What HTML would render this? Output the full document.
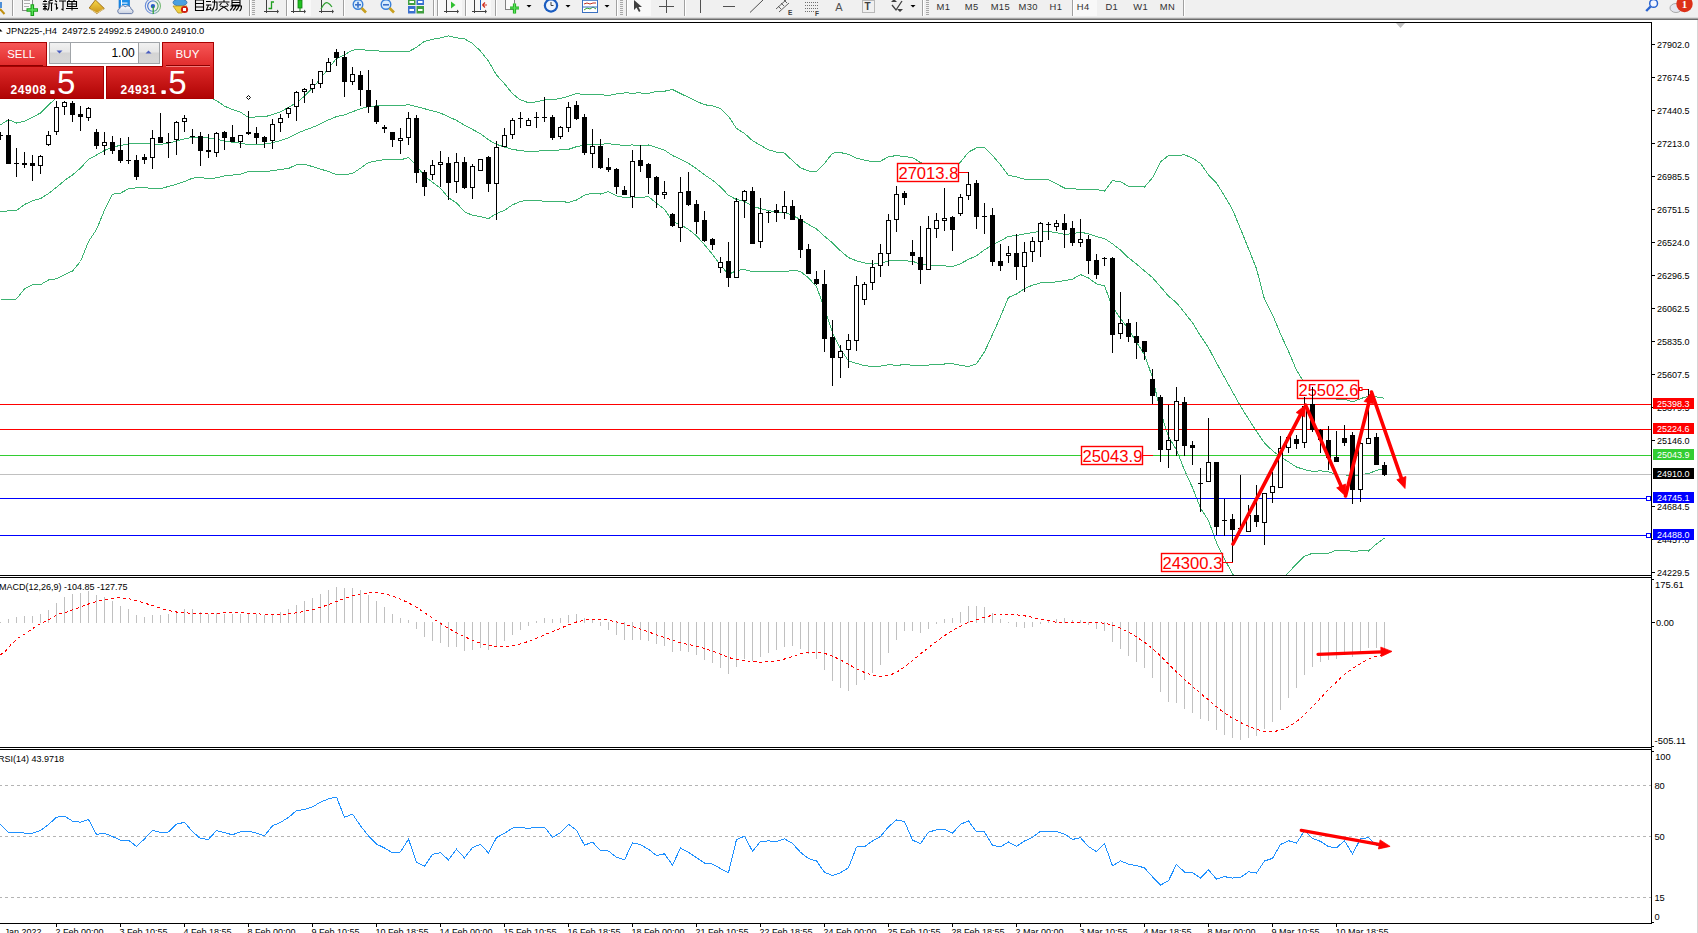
<!DOCTYPE html>
<html><head><meta charset="utf-8"><title>MT4 JPN225 H4</title>
<style>html,body{margin:0;padding:0;background:#fff;overflow:hidden}body{width:1698px;height:933px;font-family:"Liberation Sans",sans-serif}</style>
</head><body>
<svg width="1698" height="933" viewBox="0 0 1698 933" font-family="Liberation Sans, sans-serif" style="display:block">
<defs>
<clipPath id="cm"><rect x="0" y="23" width="1651" height="552"/></clipPath>
<clipPath id="cmacd"><rect x="0" y="578" width="1651" height="169"/></clipPath>
<clipPath id="crsi"><rect x="0" y="750" width="1651" height="173"/></clipPath>
<linearGradient id="gsell" x1="0" y1="0" x2="0" y2="1"><stop offset="0" stop-color="#f65656"/><stop offset="1" stop-color="#e02a2a"/></linearGradient>
<linearGradient id="gprice" x1="0" y1="0" x2="0" y2="1"><stop offset="0" stop-color="#dc2828"/><stop offset="1" stop-color="#b00404"/></linearGradient>
<linearGradient id="gbtn" x1="0" y1="0" x2="0" y2="1"><stop offset="0" stop-color="#f2f2f2"/><stop offset="0.45" stop-color="#e6e6e6"/><stop offset="0.5" stop-color="#d4d4d4"/><stop offset="1" stop-color="#d8d8d8"/></linearGradient>
<linearGradient id="ggold" x1="0" y1="0" x2="0" y2="1"><stop offset="0" stop-color="#f8d848"/><stop offset="1" stop-color="#c89018"/></linearGradient>
<linearGradient id="gcloud" x1="0" y1="0" x2="0" y2="1"><stop offset="0" stop-color="#ffffff"/><stop offset="1" stop-color="#c8d0e0"/></linearGradient>
<linearGradient id="gsig" x1="0" y1="0" x2="1" y2="0"><stop offset="0" stop-color="#3a6ad0"/><stop offset="0.55" stop-color="#6a90d8"/><stop offset="1" stop-color="#50a850"/></linearGradient>
</defs>
<rect x="0" y="0" width="1698" height="933" fill="#fff" />
<g clip-path="url(#cm)">
<polyline points="0.50,124.80 8.50,119.70 16.50,123.00 24.50,121.10 32.50,117.30 40.50,113.00 48.50,105.10 56.50,97.50 64.50,94.50 72.50,93.50 80.50,93.50 88.50,93.50 96.50,93.50 104.50,94.50 112.50,95.50 120.50,96.50 128.50,97.00 136.50,97.00 144.50,97.00 152.50,97.00 160.50,97.00 168.50,97.00 176.50,97.00 184.50,96.07 192.50,96.44 200.50,96.61 208.50,96.89 216.50,100.57 224.50,106.11 232.50,109.52 240.50,112.21 248.50,117.46 256.50,116.93 264.50,116.89 272.50,114.52 280.50,111.74 288.50,107.39 296.50,102.68 304.50,96.16 312.50,88.22 320.50,78.53 328.50,68.28 336.50,58.51 344.50,54.79 352.50,50.15 360.50,49.29 368.50,50.54 376.50,50.87 384.50,51.31 392.50,51.48 400.50,51.29 408.50,51.77 416.50,47.26 424.50,41.38 432.50,39.24 440.50,37.99 448.50,35.85 456.50,37.79 464.50,38.89 472.50,43.41 480.50,51.10 488.50,61.13 496.50,75.07 504.50,83.73 512.50,93.79 520.50,99.93 528.50,102.69 536.50,101.86 544.50,99.90 552.50,99.72 560.50,98.44 568.50,96.34 576.50,93.29 584.50,94.81 592.50,94.77 600.50,94.56 608.50,95.63 616.50,93.82 624.50,92.95 632.50,93.06 640.50,92.94 648.50,93.48 656.50,91.40 664.50,91.23 672.50,89.52 680.50,93.57 688.50,97.31 696.50,101.35 704.50,104.72 712.50,105.84 720.50,108.53 728.50,116.22 736.50,128.45 744.50,133.42 752.50,140.72 760.50,145.28 768.50,149.84 776.50,152.11 784.50,153.07 792.50,160.70 800.50,167.81 808.50,170.99 816.50,171.25 824.50,163.63 832.50,153.09 840.50,152.56 848.50,154.32 856.50,158.17 864.50,160.22 872.50,161.65 880.50,161.13 888.50,156.83 896.50,155.51 904.50,156.65 912.50,157.50 920.50,162.60 928.50,164.91 936.50,165.92 944.50,167.82 952.50,169.12 960.50,162.14 968.50,152.12 976.50,147.91 984.50,147.67 992.50,155.45 1000.50,164.86 1008.50,175.36 1016.50,176.92 1024.50,179.17 1032.50,179.96 1040.50,179.25 1048.50,179.61 1056.50,183.84 1064.50,188.04 1072.50,188.29 1080.50,189.80 1088.50,189.62 1096.50,189.30 1104.50,191.21 1112.50,180.67 1120.50,181.69 1128.50,186.30 1136.50,186.08 1144.50,187.02 1152.50,177.69 1160.50,161.90 1168.50,155.57 1176.50,155.69 1184.50,154.74 1192.50,158.05 1200.50,163.50 1208.50,174.80 1216.50,183.02 1224.50,195.88 1232.50,209.53 1240.50,228.82 1248.50,248.60 1256.50,268.75 1264.50,299.33 1272.50,314.67 1280.50,333.95 1288.50,351.29 1296.50,370.16 1304.50,383.08 1312.50,389.37 1320.50,388.27 1328.50,390.08 1336.50,399.49 1344.50,399.15 1352.50,401.96 1360.50,398.69 1368.50,396.06 1376.50,396.98 1384.50,398.30" fill="none" stroke="#3cb371" stroke-width="1" shape-rendering="crispEdges" />
<polyline points="0.50,211.90 8.50,210.80 16.50,210.50 24.50,204.50 32.50,200.70 40.50,198.70 48.50,193.50 56.50,187.30 64.50,180.50 72.50,175.00 80.50,168.00 88.50,159.50 96.50,155.00 104.50,150.50 112.50,146.70 120.50,145.60 128.50,143.90 136.50,143.90 144.50,143.90 152.50,143.92 160.50,144.31 168.50,143.20 176.50,141.16 184.50,138.78 192.50,137.30 200.50,137.03 208.50,137.88 216.50,139.19 224.50,140.96 232.50,142.31 240.50,143.20 248.50,144.50 256.50,144.09 264.50,144.06 272.50,142.72 280.50,140.56 288.50,137.92 296.50,133.69 304.50,130.17 312.50,127.42 320.50,123.83 328.50,119.88 336.50,116.65 344.50,114.85 352.50,111.78 360.50,108.77 368.50,106.48 376.50,105.91 384.50,105.49 392.50,105.39 400.50,105.53 408.50,104.75 416.50,106.50 424.50,108.76 432.50,110.82 440.50,113.06 448.50,116.82 456.50,120.33 464.50,125.27 472.50,129.41 480.50,133.81 488.50,139.87 496.50,144.33 504.50,147.03 512.50,149.31 520.50,150.71 528.50,151.41 536.50,151.17 544.50,150.56 552.50,150.46 560.50,149.91 568.50,149.35 576.50,146.66 584.50,144.97 592.50,144.02 600.50,144.30 608.50,143.66 616.50,144.88 624.50,145.21 632.50,144.97 640.50,145.29 648.50,144.99 656.50,147.38 664.50,150.19 672.50,155.50 680.50,159.15 688.50,163.35 696.50,168.58 704.50,174.78 712.50,180.13 720.50,186.86 728.50,195.38 736.50,199.51 744.50,201.42 752.50,206.29 760.50,208.56 768.50,210.64 776.50,211.97 784.50,212.51 792.50,215.43 800.50,219.63 808.50,224.45 816.50,228.91 824.50,236.26 832.50,242.84 840.50,250.83 848.50,257.60 856.50,260.79 864.50,262.95 872.50,264.07 880.50,263.65 888.50,260.77 896.50,260.38 904.50,260.71 912.50,261.31 920.50,264.13 928.50,264.97 936.50,265.31 944.50,265.92 952.50,266.40 960.50,263.77 968.50,259.26 976.50,255.91 984.50,249.78 992.50,244.98 1000.50,240.74 1008.50,236.38 1016.50,235.47 1024.50,233.88 1032.50,232.58 1040.50,231.08 1048.50,231.30 1056.50,232.79 1064.50,234.39 1072.50,233.74 1080.50,232.19 1088.50,233.81 1096.50,236.54 1104.50,238.56 1112.50,243.82 1120.50,250.12 1128.50,257.76 1136.50,264.07 1144.50,270.88 1152.50,277.58 1160.50,286.75 1168.50,296.12 1176.50,302.82 1184.50,312.50 1192.50,322.82 1200.50,335.82 1208.50,347.71 1216.50,362.88 1224.50,377.38 1232.50,391.73 1240.50,406.22 1248.50,418.93 1256.50,431.31 1264.50,443.08 1272.50,450.66 1280.50,456.91 1288.50,461.91 1296.50,467.00 1304.50,469.64 1312.50,471.34 1320.50,470.84 1328.50,471.73 1336.50,474.77 1344.50,474.64 1352.50,476.73 1360.50,474.73 1368.50,473.54 1376.50,470.46 1384.50,468.22" fill="none" stroke="#3cb371" stroke-width="1" shape-rendering="crispEdges" />
<polyline points="0.50,298.90 8.50,299.90 16.50,298.90 24.50,289.00 32.50,284.70 40.50,284.70 48.50,280.00 56.50,278.70 64.50,274.80 72.50,271.00 80.50,261.50 88.50,241.50 96.50,229.50 104.50,210.20 112.50,194.30 120.50,193.10 128.50,188.90 136.50,187.80 144.50,187.80 152.50,188.34 160.50,188.58 168.50,186.48 176.50,184.27 184.50,181.50 192.50,178.15 200.50,177.45 208.50,178.87 216.50,177.82 224.50,175.81 232.50,175.09 240.50,174.20 248.50,171.54 256.50,171.26 264.50,171.23 272.50,170.93 280.50,169.39 288.50,168.45 296.50,164.69 304.50,164.17 312.50,166.62 320.50,169.14 328.50,171.47 336.50,174.79 344.50,174.91 352.50,173.41 360.50,168.25 368.50,162.43 376.50,160.94 384.50,159.67 392.50,159.30 400.50,159.77 408.50,157.72 416.50,165.74 424.50,176.14 432.50,182.39 440.50,188.13 448.50,197.78 456.50,202.87 464.50,211.65 472.50,215.40 480.50,216.51 488.50,218.61 496.50,213.60 504.50,210.32 512.50,204.83 520.50,201.49 528.50,200.12 536.50,200.48 544.50,201.21 552.50,201.20 560.50,201.38 568.50,202.37 576.50,200.03 584.50,195.13 592.50,193.27 600.50,194.04 608.50,191.69 616.50,195.94 624.50,197.47 632.50,196.87 640.50,197.64 648.50,196.50 656.50,203.35 664.50,209.16 672.50,221.47 680.50,224.72 688.50,229.40 696.50,235.81 704.50,244.84 712.50,254.43 720.50,265.19 728.50,274.55 736.50,270.57 744.50,269.42 752.50,271.86 760.50,271.83 768.50,271.44 776.50,271.82 784.50,271.94 792.50,270.16 800.50,271.45 808.50,277.91 816.50,286.56 824.50,308.89 832.50,332.60 840.50,349.11 848.50,360.88 856.50,363.41 864.50,365.68 872.50,366.50 880.50,366.17 888.50,364.71 896.50,365.25 904.50,364.76 912.50,365.12 920.50,365.66 928.50,365.03 936.50,364.71 944.50,364.01 952.50,363.68 960.50,365.40 968.50,366.40 976.50,363.90 984.50,351.89 992.50,334.51 1000.50,316.62 1008.50,297.39 1016.50,294.03 1024.50,288.59 1032.50,285.20 1040.50,282.92 1048.50,282.99 1056.50,281.74 1064.50,280.74 1072.50,279.19 1080.50,274.58 1088.50,278.01 1096.50,283.78 1104.50,285.90 1112.50,306.97 1120.50,318.56 1128.50,329.23 1136.50,342.06 1144.50,354.74 1152.50,377.47 1160.50,411.59 1168.50,436.68 1176.50,449.96 1184.50,470.25 1192.50,487.59 1200.50,508.14 1208.50,520.62 1216.50,542.74 1224.50,558.89 1232.50,573.93 1240.50,583.62 1248.50,589.26 1256.50,593.86 1264.50,586.83 1272.50,586.66 1280.50,579.88 1288.50,572.53 1296.50,563.83 1304.50,556.21 1312.50,553.30 1320.50,553.42 1328.50,553.38 1336.50,550.06 1344.50,550.13 1352.50,551.49 1360.50,550.76 1368.50,551.01 1376.50,543.95 1384.50,538.14" fill="none" stroke="#3cb371" stroke-width="1" shape-rendering="crispEdges" />
<rect x="0" y="404" width="1651" height="1" fill="#ff0000" />
<rect x="0" y="429" width="1651" height="1" fill="#ff0000" />
<rect x="0" y="455" width="1651" height="1" fill="#32cd32" />
<rect x="0" y="474" width="1651" height="1" fill="#c0c0c0" />
<rect x="0" y="498" width="1651" height="1" fill="#0000ff" />
<rect x="0" y="535" width="1651" height="1" fill="#0000ff" />
<rect x="1646.5" y="496.5" width="4" height="4" fill="#fff" stroke="#0000ff" stroke-width="1"/>
<rect x="1646.5" y="533.5" width="4" height="4" fill="#fff" stroke="#0000ff" stroke-width="1"/>
<rect x="897.5" y="163.5" width="61" height="18" fill="#fff" stroke="#ff0000" stroke-width="1.4"/>
<text x="928.4" y="179.1" font-size="16.6" fill="#ff0000" text-anchor="middle" font-weight="normal" >27013.8</text>
<rect x="959" y="172" width="10" height="1" fill="#ff0000" />
<rect x="1297.5" y="380.5" width="61" height="18" fill="#fff" stroke="#ff0000" stroke-width="1.4"/>
<text x="1328.4" y="396.1" font-size="16.6" fill="#ff0000" text-anchor="middle" font-weight="normal" >25502.6</text>
<rect x="1359.5" y="387.5" width="2.5" height="3" fill="#fff" stroke="#ff0000" stroke-width="1"/>
<rect x="1362" y="389" width="7" height="1" fill="#ff0000" />
<rect x="1081.5" y="446.5" width="61" height="18" fill="#fff" stroke="#ff0000" stroke-width="1.4"/>
<text x="1112.4" y="462.1" font-size="16.6" fill="#ff0000" text-anchor="middle" font-weight="normal" >25043.9</text>
<rect x="1143" y="455" width="10" height="1" fill="#ff0000" />
<rect x="1161.5" y="553.5" width="61" height="18" fill="#fff" stroke="#ff0000" stroke-width="1.4"/>
<text x="1192.4" y="569.1" font-size="16.6" fill="#ff0000" text-anchor="middle" font-weight="normal" >24300.3</text>
<rect x="1223" y="562" width="10" height="1" fill="#ff0000" />
<rect x="0" y="132" width="1" height="8" fill="#000" />
<rect x="-2" y="135" width="5" height="1" fill="#000" />
<rect x="8" y="119" width="1" height="45" fill="#000" />
<rect x="6" y="135" width="5" height="29" fill="#000" />
<rect x="16" y="148" width="1" height="29" fill="#000" />
<rect x="14" y="163" width="5" height="1" fill="#000" />
<rect x="24" y="152" width="1" height="16" fill="#000" />
<rect x="22" y="163" width="5" height="2" fill="#000" />
<rect x="32" y="155" width="1" height="26" fill="#000" />
<rect x="30" y="163" width="5" height="3" fill="#000" />
<rect x="40" y="155" width="1" height="19" fill="#000" />
<rect x="38" y="156" width="5" height="10" fill="#000" />
<rect x="39" y="157" width="3" height="8" fill="#fff" />
<rect x="48" y="131" width="1" height="15" fill="#000" />
<rect x="46" y="135" width="5" height="10" fill="#000" />
<rect x="47" y="136" width="3" height="8" fill="#fff" />
<rect x="56" y="101" width="1" height="34" fill="#000" />
<rect x="54" y="107" width="5" height="25" fill="#000" />
<rect x="55" y="108" width="3" height="23" fill="#fff" />
<rect x="64" y="101" width="1" height="14" fill="#000" />
<rect x="62" y="102" width="5" height="5" fill="#000" />
<rect x="63" y="103" width="3" height="3" fill="#fff" />
<rect x="72" y="101" width="1" height="21" fill="#000" />
<rect x="70" y="103" width="5" height="12" fill="#000" />
<rect x="80" y="106" width="1" height="25" fill="#000" />
<rect x="78" y="114" width="5" height="3" fill="#000" />
<rect x="88" y="107" width="1" height="14" fill="#000" />
<rect x="86" y="108" width="5" height="10" fill="#000" />
<rect x="87" y="109" width="3" height="8" fill="#fff" />
<rect x="96" y="129" width="1" height="20" fill="#000" />
<rect x="94" y="132" width="5" height="14" fill="#000" />
<rect x="104" y="132" width="1" height="23" fill="#000" />
<rect x="102" y="142" width="5" height="4" fill="#000" />
<rect x="103" y="143" width="3" height="2" fill="#fff" />
<rect x="112" y="136" width="1" height="18" fill="#000" />
<rect x="110" y="142" width="5" height="9" fill="#000" />
<rect x="120" y="138" width="1" height="25" fill="#000" />
<rect x="118" y="150" width="5" height="11" fill="#000" />
<rect x="128" y="137" width="1" height="27" fill="#000" />
<rect x="126" y="160" width="5" height="1" fill="#000" />
<rect x="136" y="155" width="1" height="25" fill="#000" />
<rect x="134" y="160" width="5" height="17" fill="#000" />
<rect x="144" y="154" width="1" height="10" fill="#000" />
<rect x="142" y="157" width="5" height="3" fill="#000" />
<rect x="152" y="130" width="1" height="39" fill="#000" />
<rect x="150" y="138" width="5" height="20" fill="#000" />
<rect x="151" y="139" width="3" height="18" fill="#fff" />
<rect x="160" y="113" width="1" height="30" fill="#000" />
<rect x="158" y="137" width="5" height="6" fill="#000" />
<rect x="168" y="133" width="1" height="25" fill="#000" />
<rect x="166" y="142" width="5" height="1" fill="#000" />
<rect x="176" y="121" width="1" height="34" fill="#000" />
<rect x="174" y="122" width="5" height="18" fill="#000" />
<rect x="175" y="123" width="3" height="16" fill="#fff" />
<rect x="184" y="115" width="1" height="17" fill="#000" />
<rect x="182" y="118" width="5" height="4" fill="#000" />
<rect x="183" y="119" width="3" height="2" fill="#fff" />
<rect x="192" y="129" width="1" height="15" fill="#000" />
<rect x="190" y="136" width="5" height="1" fill="#000" />
<rect x="200" y="132" width="1" height="34" fill="#000" />
<rect x="198" y="136" width="5" height="15" fill="#000" />
<rect x="208" y="134" width="1" height="24" fill="#000" />
<rect x="206" y="150" width="5" height="2" fill="#000" />
<rect x="216" y="132" width="1" height="25" fill="#000" />
<rect x="214" y="133" width="5" height="20" fill="#000" />
<rect x="215" y="134" width="3" height="18" fill="#fff" />
<rect x="224" y="131" width="1" height="19" fill="#000" />
<rect x="222" y="132" width="5" height="6" fill="#000" />
<rect x="232" y="125" width="1" height="17" fill="#000" />
<rect x="230" y="137" width="5" height="5" fill="#000" />
<rect x="240" y="135" width="1" height="13" fill="#000" />
<rect x="238" y="135" width="5" height="7" fill="#000" />
<rect x="239" y="136" width="3" height="5" fill="#fff" />
<rect x="248" y="111" width="1" height="24" fill="#000" />
<rect x="246" y="132" width="5" height="2" fill="#000" />
<rect x="256" y="127" width="1" height="17" fill="#000" />
<rect x="254" y="133" width="5" height="5" fill="#000" />
<rect x="264" y="136" width="1" height="12" fill="#000" />
<rect x="262" y="137" width="5" height="5" fill="#000" />
<rect x="272" y="119" width="1" height="30" fill="#000" />
<rect x="270" y="124" width="5" height="17" fill="#000" />
<rect x="271" y="125" width="3" height="15" fill="#fff" />
<rect x="280" y="114" width="1" height="18" fill="#000" />
<rect x="278" y="118" width="5" height="5" fill="#000" />
<rect x="279" y="119" width="3" height="3" fill="#fff" />
<rect x="288" y="107" width="1" height="11" fill="#000" />
<rect x="286" y="108" width="5" height="6" fill="#000" />
<rect x="287" y="109" width="3" height="4" fill="#fff" />
<rect x="296" y="91" width="1" height="30" fill="#000" />
<rect x="294" y="92" width="5" height="15" fill="#000" />
<rect x="295" y="93" width="3" height="13" fill="#fff" />
<rect x="304" y="88" width="1" height="15" fill="#000" />
<rect x="302" y="89" width="5" height="3" fill="#000" />
<rect x="303" y="90" width="3" height="1" fill="#fff" />
<rect x="312" y="79" width="1" height="14" fill="#000" />
<rect x="310" y="84" width="5" height="5" fill="#000" />
<rect x="311" y="85" width="3" height="3" fill="#fff" />
<rect x="320" y="71" width="1" height="17" fill="#000" />
<rect x="318" y="71" width="5" height="13" fill="#000" />
<rect x="319" y="72" width="3" height="11" fill="#fff" />
<rect x="328" y="58" width="1" height="14" fill="#000" />
<rect x="326" y="62" width="5" height="10" fill="#000" />
<rect x="327" y="63" width="3" height="8" fill="#fff" />
<rect x="336" y="49" width="1" height="17" fill="#000" />
<rect x="334" y="52" width="5" height="6" fill="#000" />
<rect x="344" y="51" width="1" height="46" fill="#000" />
<rect x="342" y="57" width="5" height="25" fill="#000" />
<rect x="352" y="67" width="1" height="18" fill="#000" />
<rect x="350" y="74" width="5" height="8" fill="#000" />
<rect x="351" y="75" width="3" height="6" fill="#fff" />
<rect x="360" y="71" width="1" height="35" fill="#000" />
<rect x="358" y="75" width="5" height="15" fill="#000" />
<rect x="368" y="70" width="1" height="43" fill="#000" />
<rect x="366" y="90" width="5" height="17" fill="#000" />
<rect x="376" y="100" width="1" height="24" fill="#000" />
<rect x="374" y="106" width="5" height="16" fill="#000" />
<rect x="384" y="125" width="1" height="8" fill="#000" />
<rect x="382" y="127" width="5" height="2" fill="#000" />
<rect x="392" y="132" width="1" height="15" fill="#000" />
<rect x="390" y="132" width="5" height="8" fill="#000" />
<rect x="400" y="128" width="1" height="26" fill="#000" />
<rect x="398" y="138" width="5" height="3" fill="#000" />
<rect x="399" y="139" width="3" height="1" fill="#fff" />
<rect x="408" y="112" width="1" height="33" fill="#000" />
<rect x="406" y="118" width="5" height="20" fill="#000" />
<rect x="407" y="119" width="3" height="18" fill="#fff" />
<rect x="416" y="115" width="1" height="68" fill="#000" />
<rect x="414" y="118" width="5" height="55" fill="#000" />
<rect x="424" y="170" width="1" height="26" fill="#000" />
<rect x="422" y="172" width="5" height="15" fill="#000" />
<rect x="432" y="160" width="1" height="20" fill="#000" />
<rect x="430" y="165" width="5" height="10" fill="#000" />
<rect x="431" y="166" width="3" height="8" fill="#fff" />
<rect x="440" y="151" width="1" height="36" fill="#000" />
<rect x="438" y="162" width="5" height="3" fill="#000" />
<rect x="439" y="163" width="3" height="1" fill="#fff" />
<rect x="448" y="157" width="1" height="43" fill="#000" />
<rect x="446" y="163" width="5" height="20" fill="#000" />
<rect x="456" y="153" width="1" height="40" fill="#000" />
<rect x="454" y="162" width="5" height="20" fill="#000" />
<rect x="455" y="163" width="3" height="18" fill="#fff" />
<rect x="464" y="157" width="1" height="32" fill="#000" />
<rect x="462" y="162" width="5" height="26" fill="#000" />
<rect x="472" y="164" width="1" height="35" fill="#000" />
<rect x="470" y="166" width="5" height="22" fill="#000" />
<rect x="471" y="167" width="3" height="20" fill="#fff" />
<rect x="480" y="159" width="1" height="12" fill="#000" />
<rect x="478" y="159" width="5" height="12" fill="#000" />
<rect x="479" y="160" width="3" height="10" fill="#fff" />
<rect x="488" y="156" width="1" height="36" fill="#000" />
<rect x="486" y="157" width="5" height="27" fill="#000" />
<rect x="496" y="141" width="1" height="79" fill="#000" />
<rect x="494" y="147" width="5" height="37" fill="#000" />
<rect x="495" y="148" width="3" height="35" fill="#fff" />
<rect x="504" y="128" width="1" height="19" fill="#000" />
<rect x="502" y="135" width="5" height="12" fill="#000" />
<rect x="503" y="136" width="3" height="10" fill="#fff" />
<rect x="512" y="118" width="1" height="21" fill="#000" />
<rect x="510" y="120" width="5" height="15" fill="#000" />
<rect x="511" y="121" width="3" height="13" fill="#fff" />
<rect x="520" y="112" width="1" height="16" fill="#000" />
<rect x="518" y="118" width="5" height="1" fill="#000" />
<rect x="528" y="118" width="1" height="8" fill="#000" />
<rect x="526" y="120" width="5" height="6" fill="#000" />
<rect x="527" y="121" width="3" height="4" fill="#fff" />
<rect x="536" y="112" width="1" height="16" fill="#000" />
<rect x="534" y="117" width="5" height="1" fill="#000" />
<rect x="544" y="97" width="1" height="25" fill="#000" />
<rect x="542" y="117" width="5" height="1" fill="#000" />
<rect x="552" y="115" width="1" height="25" fill="#000" />
<rect x="550" y="117" width="5" height="21" fill="#000" />
<rect x="560" y="126" width="1" height="13" fill="#000" />
<rect x="558" y="127" width="5" height="10" fill="#000" />
<rect x="559" y="128" width="3" height="8" fill="#fff" />
<rect x="568" y="102" width="1" height="30" fill="#000" />
<rect x="566" y="107" width="5" height="21" fill="#000" />
<rect x="567" y="108" width="3" height="19" fill="#fff" />
<rect x="576" y="101" width="1" height="19" fill="#000" />
<rect x="574" y="105" width="5" height="14" fill="#000" />
<rect x="584" y="114" width="1" height="41" fill="#000" />
<rect x="582" y="117" width="5" height="36" fill="#000" />
<rect x="592" y="129" width="1" height="39" fill="#000" />
<rect x="590" y="146" width="5" height="8" fill="#000" />
<rect x="591" y="147" width="3" height="6" fill="#fff" />
<rect x="600" y="139" width="1" height="30" fill="#000" />
<rect x="598" y="146" width="5" height="22" fill="#000" />
<rect x="608" y="158" width="1" height="14" fill="#000" />
<rect x="606" y="167" width="5" height="3" fill="#000" />
<rect x="616" y="168" width="1" height="26" fill="#000" />
<rect x="614" y="169" width="5" height="18" fill="#000" />
<rect x="624" y="186" width="1" height="9" fill="#000" />
<rect x="622" y="190" width="5" height="5" fill="#000" />
<rect x="632" y="150" width="1" height="58" fill="#000" />
<rect x="630" y="161" width="5" height="36" fill="#000" />
<rect x="631" y="162" width="3" height="34" fill="#fff" />
<rect x="640" y="145" width="1" height="27" fill="#000" />
<rect x="638" y="160" width="5" height="6" fill="#000" />
<rect x="648" y="163" width="1" height="31" fill="#000" />
<rect x="646" y="164" width="5" height="14" fill="#000" />
<rect x="656" y="176" width="1" height="32" fill="#000" />
<rect x="654" y="177" width="5" height="18" fill="#000" />
<rect x="664" y="181" width="1" height="18" fill="#000" />
<rect x="662" y="192" width="5" height="3" fill="#000" />
<rect x="663" y="193" width="3" height="1" fill="#fff" />
<rect x="672" y="213" width="1" height="14" fill="#000" />
<rect x="670" y="214" width="5" height="12" fill="#000" />
<rect x="680" y="177" width="1" height="65" fill="#000" />
<rect x="678" y="192" width="5" height="36" fill="#000" />
<rect x="679" y="193" width="3" height="34" fill="#fff" />
<rect x="688" y="172" width="1" height="34" fill="#000" />
<rect x="686" y="191" width="5" height="14" fill="#000" />
<rect x="696" y="200" width="1" height="34" fill="#000" />
<rect x="694" y="204" width="5" height="18" fill="#000" />
<rect x="704" y="211" width="1" height="31" fill="#000" />
<rect x="702" y="220" width="5" height="21" fill="#000" />
<rect x="712" y="238" width="1" height="12" fill="#000" />
<rect x="710" y="239" width="5" height="6" fill="#000" />
<rect x="720" y="257" width="1" height="16" fill="#000" />
<rect x="718" y="262" width="5" height="6" fill="#000" />
<rect x="719" y="263" width="3" height="4" fill="#fff" />
<rect x="728" y="242" width="1" height="45" fill="#000" />
<rect x="726" y="261" width="5" height="17" fill="#000" />
<rect x="736" y="198" width="1" height="80" fill="#000" />
<rect x="734" y="201" width="5" height="77" fill="#000" />
<rect x="735" y="202" width="3" height="75" fill="#fff" />
<rect x="744" y="190" width="1" height="28" fill="#000" />
<rect x="742" y="191" width="5" height="10" fill="#000" />
<rect x="743" y="192" width="3" height="8" fill="#fff" />
<rect x="752" y="187" width="1" height="57" fill="#000" />
<rect x="750" y="191" width="5" height="53" fill="#000" />
<rect x="760" y="198" width="1" height="50" fill="#000" />
<rect x="758" y="213" width="5" height="29" fill="#000" />
<rect x="759" y="214" width="3" height="27" fill="#fff" />
<rect x="768" y="211" width="1" height="12" fill="#000" />
<rect x="766" y="212" width="5" height="1" fill="#000" />
<rect x="776" y="204" width="1" height="18" fill="#000" />
<rect x="774" y="210" width="5" height="3" fill="#000" />
<rect x="784" y="191" width="1" height="28" fill="#000" />
<rect x="782" y="206" width="5" height="7" fill="#000" />
<rect x="783" y="207" width="3" height="5" fill="#fff" />
<rect x="792" y="200" width="1" height="20" fill="#000" />
<rect x="790" y="206" width="5" height="14" fill="#000" />
<rect x="800" y="215" width="1" height="43" fill="#000" />
<rect x="798" y="219" width="5" height="31" fill="#000" />
<rect x="808" y="244" width="1" height="30" fill="#000" />
<rect x="806" y="249" width="5" height="25" fill="#000" />
<rect x="816" y="271" width="1" height="14" fill="#000" />
<rect x="814" y="279" width="5" height="5" fill="#000" />
<rect x="824" y="270" width="1" height="82" fill="#000" />
<rect x="822" y="284" width="5" height="55" fill="#000" />
<rect x="832" y="320" width="1" height="66" fill="#000" />
<rect x="830" y="337" width="5" height="21" fill="#000" />
<rect x="840" y="345" width="1" height="33" fill="#000" />
<rect x="838" y="351" width="5" height="7" fill="#000" />
<rect x="839" y="352" width="3" height="5" fill="#fff" />
<rect x="848" y="334" width="1" height="34" fill="#000" />
<rect x="846" y="340" width="5" height="10" fill="#000" />
<rect x="847" y="341" width="3" height="8" fill="#fff" />
<rect x="856" y="276" width="1" height="75" fill="#000" />
<rect x="854" y="285" width="5" height="56" fill="#000" />
<rect x="855" y="286" width="3" height="54" fill="#fff" />
<rect x="864" y="282" width="1" height="23" fill="#000" />
<rect x="862" y="284" width="5" height="16" fill="#000" />
<rect x="863" y="285" width="3" height="14" fill="#fff" />
<rect x="872" y="260" width="1" height="30" fill="#000" />
<rect x="870" y="267" width="5" height="16" fill="#000" />
<rect x="871" y="268" width="3" height="14" fill="#fff" />
<rect x="880" y="244" width="1" height="33" fill="#000" />
<rect x="878" y="253" width="5" height="13" fill="#000" />
<rect x="879" y="254" width="3" height="11" fill="#fff" />
<rect x="888" y="214" width="1" height="52" fill="#000" />
<rect x="886" y="220" width="5" height="34" fill="#000" />
<rect x="887" y="221" width="3" height="32" fill="#fff" />
<rect x="896" y="186" width="1" height="46" fill="#000" />
<rect x="894" y="194" width="5" height="26" fill="#000" />
<rect x="895" y="195" width="3" height="24" fill="#fff" />
<rect x="904" y="191" width="1" height="14" fill="#000" />
<rect x="902" y="193" width="5" height="5" fill="#000" />
<rect x="912" y="240" width="1" height="25" fill="#000" />
<rect x="910" y="252" width="5" height="4" fill="#000" />
<rect x="920" y="226" width="1" height="58" fill="#000" />
<rect x="918" y="257" width="5" height="13" fill="#000" />
<rect x="928" y="216" width="1" height="54" fill="#000" />
<rect x="926" y="228" width="5" height="42" fill="#000" />
<rect x="927" y="229" width="3" height="40" fill="#fff" />
<rect x="936" y="213" width="1" height="25" fill="#000" />
<rect x="934" y="220" width="5" height="9" fill="#000" />
<rect x="935" y="221" width="3" height="7" fill="#fff" />
<rect x="944" y="188" width="1" height="43" fill="#000" />
<rect x="942" y="218" width="5" height="3" fill="#000" />
<rect x="943" y="219" width="3" height="1" fill="#fff" />
<rect x="952" y="216" width="1" height="35" fill="#000" />
<rect x="950" y="217" width="5" height="13" fill="#000" />
<rect x="960" y="194" width="1" height="22" fill="#000" />
<rect x="958" y="197" width="5" height="17" fill="#000" />
<rect x="959" y="198" width="3" height="15" fill="#fff" />
<rect x="968" y="172" width="1" height="28" fill="#000" />
<rect x="966" y="184" width="5" height="12" fill="#000" />
<rect x="967" y="185" width="3" height="10" fill="#fff" />
<rect x="976" y="180" width="1" height="49" fill="#000" />
<rect x="974" y="183" width="5" height="34" fill="#000" />
<rect x="984" y="203" width="1" height="31" fill="#000" />
<rect x="982" y="216" width="5" height="1" fill="#000" />
<rect x="992" y="208" width="1" height="58" fill="#000" />
<rect x="990" y="215" width="5" height="47" fill="#000" />
<rect x="1000" y="244" width="1" height="27" fill="#000" />
<rect x="998" y="261" width="5" height="5" fill="#000" />
<rect x="1008" y="246" width="1" height="17" fill="#000" />
<rect x="1006" y="253" width="5" height="3" fill="#000" />
<rect x="1007" y="254" width="3" height="1" fill="#fff" />
<rect x="1016" y="234" width="1" height="46" fill="#000" />
<rect x="1014" y="253" width="5" height="14" fill="#000" />
<rect x="1024" y="242" width="1" height="50" fill="#000" />
<rect x="1022" y="252" width="5" height="15" fill="#000" />
<rect x="1023" y="253" width="3" height="13" fill="#fff" />
<rect x="1032" y="237" width="1" height="25" fill="#000" />
<rect x="1030" y="241" width="5" height="11" fill="#000" />
<rect x="1031" y="242" width="3" height="9" fill="#fff" />
<rect x="1040" y="222" width="1" height="35" fill="#000" />
<rect x="1038" y="223" width="5" height="19" fill="#000" />
<rect x="1039" y="224" width="3" height="17" fill="#fff" />
<rect x="1048" y="222" width="1" height="18" fill="#000" />
<rect x="1046" y="224" width="5" height="1" fill="#000" />
<rect x="1056" y="220" width="1" height="11" fill="#000" />
<rect x="1054" y="223" width="5" height="4" fill="#000" />
<rect x="1055" y="224" width="3" height="2" fill="#fff" />
<rect x="1064" y="214" width="1" height="34" fill="#000" />
<rect x="1062" y="223" width="5" height="7" fill="#000" />
<rect x="1072" y="221" width="1" height="25" fill="#000" />
<rect x="1070" y="228" width="5" height="15" fill="#000" />
<rect x="1080" y="219" width="1" height="28" fill="#000" />
<rect x="1078" y="239" width="5" height="4" fill="#000" />
<rect x="1079" y="240" width="3" height="2" fill="#fff" />
<rect x="1088" y="235" width="1" height="39" fill="#000" />
<rect x="1086" y="239" width="5" height="22" fill="#000" />
<rect x="1096" y="254" width="1" height="25" fill="#000" />
<rect x="1094" y="260" width="5" height="15" fill="#000" />
<rect x="1104" y="257" width="1" height="9" fill="#000" />
<rect x="1102" y="258" width="5" height="1" fill="#000" />
<rect x="1112" y="257" width="1" height="96" fill="#000" />
<rect x="1110" y="258" width="5" height="77" fill="#000" />
<rect x="1120" y="292" width="1" height="47" fill="#000" />
<rect x="1118" y="323" width="5" height="11" fill="#000" />
<rect x="1119" y="324" width="3" height="9" fill="#fff" />
<rect x="1128" y="319" width="1" height="23" fill="#000" />
<rect x="1126" y="323" width="5" height="14" fill="#000" />
<rect x="1136" y="322" width="1" height="37" fill="#000" />
<rect x="1134" y="336" width="5" height="7" fill="#000" />
<rect x="1144" y="341" width="1" height="19" fill="#000" />
<rect x="1142" y="341" width="5" height="11" fill="#000" />
<rect x="1152" y="369" width="1" height="35" fill="#000" />
<rect x="1150" y="379" width="5" height="17" fill="#000" />
<rect x="1160" y="395" width="1" height="67" fill="#000" />
<rect x="1158" y="397" width="5" height="53" fill="#000" />
<rect x="1168" y="405" width="1" height="63" fill="#000" />
<rect x="1166" y="440" width="5" height="10" fill="#000" />
<rect x="1167" y="441" width="3" height="8" fill="#fff" />
<rect x="1176" y="387" width="1" height="69" fill="#000" />
<rect x="1174" y="401" width="5" height="40" fill="#000" />
<rect x="1175" y="402" width="3" height="38" fill="#fff" />
<rect x="1184" y="397" width="1" height="59" fill="#000" />
<rect x="1182" y="402" width="5" height="44" fill="#000" />
<rect x="1192" y="441" width="1" height="24" fill="#000" />
<rect x="1190" y="445" width="5" height="3" fill="#000" />
<rect x="1200" y="468" width="1" height="44" fill="#000" />
<rect x="1198" y="483" width="5" height="1" fill="#000" />
<rect x="1208" y="418" width="1" height="64" fill="#000" />
<rect x="1206" y="462" width="5" height="20" fill="#000" />
<rect x="1207" y="463" width="3" height="18" fill="#fff" />
<rect x="1216" y="462" width="1" height="73" fill="#000" />
<rect x="1214" y="462" width="5" height="65" fill="#000" />
<rect x="1224" y="499" width="1" height="37" fill="#000" />
<rect x="1222" y="520" width="5" height="1" fill="#000" />
<rect x="1232" y="514" width="1" height="48" fill="#000" />
<rect x="1230" y="519" width="5" height="11" fill="#000" />
<rect x="1240" y="475" width="1" height="55" fill="#000" />
<rect x="1238" y="528" width="5" height="1" fill="#000" />
<rect x="1248" y="505" width="1" height="27" fill="#000" />
<rect x="1246" y="515" width="5" height="17" fill="#000" />
<rect x="1247" y="516" width="3" height="15" fill="#fff" />
<rect x="1256" y="485" width="1" height="42" fill="#000" />
<rect x="1254" y="515" width="5" height="7" fill="#000" />
<rect x="1264" y="493" width="1" height="52" fill="#000" />
<rect x="1262" y="493" width="5" height="30" fill="#000" />
<rect x="1263" y="494" width="3" height="28" fill="#fff" />
<rect x="1272" y="472" width="1" height="31" fill="#000" />
<rect x="1270" y="486" width="5" height="7" fill="#000" />
<rect x="1271" y="487" width="3" height="5" fill="#fff" />
<rect x="1280" y="436" width="1" height="52" fill="#000" />
<rect x="1278" y="448" width="5" height="40" fill="#000" />
<rect x="1279" y="449" width="3" height="38" fill="#fff" />
<rect x="1288" y="436" width="1" height="17" fill="#000" />
<rect x="1286" y="437" width="5" height="11" fill="#000" />
<rect x="1287" y="438" width="3" height="9" fill="#fff" />
<rect x="1296" y="435" width="1" height="14" fill="#000" />
<rect x="1294" y="439" width="5" height="5" fill="#000" />
<rect x="1304" y="397" width="1" height="51" fill="#000" />
<rect x="1302" y="406" width="5" height="37" fill="#000" />
<rect x="1303" y="407" width="3" height="35" fill="#fff" />
<rect x="1312" y="387" width="1" height="45" fill="#000" />
<rect x="1310" y="404" width="5" height="26" fill="#000" />
<rect x="1320" y="429" width="1" height="24" fill="#000" />
<rect x="1318" y="430" width="5" height="10" fill="#000" />
<rect x="1328" y="426" width="1" height="44" fill="#000" />
<rect x="1326" y="440" width="5" height="18" fill="#000" />
<rect x="1336" y="431" width="1" height="31" fill="#000" />
<rect x="1334" y="457" width="5" height="5" fill="#000" />
<rect x="1344" y="425" width="1" height="21" fill="#000" />
<rect x="1342" y="438" width="5" height="5" fill="#000" />
<rect x="1352" y="432" width="1" height="72" fill="#000" />
<rect x="1350" y="435" width="5" height="55" fill="#000" />
<rect x="1360" y="430" width="1" height="72" fill="#000" />
<rect x="1358" y="443" width="5" height="47" fill="#000" />
<rect x="1359" y="444" width="3" height="45" fill="#fff" />
<rect x="1368" y="389" width="1" height="55" fill="#000" />
<rect x="1366" y="438" width="5" height="6" fill="#000" />
<rect x="1367" y="439" width="3" height="4" fill="#fff" />
<rect x="1376" y="433" width="1" height="32" fill="#000" />
<rect x="1374" y="437" width="5" height="28" fill="#000" />
<rect x="1384" y="462" width="1" height="14" fill="#000" />
<rect x="1382" y="465" width="5" height="10" fill="#000" />
<path d="M248.5,95.5 L250.5,97.5 L248.5,99.5 L246.5,97.5 Z" fill="#fff" stroke="#000" stroke-width="1"/>
<line x1="1233.00" y1="544.00" x2="1300.88" y2="413.87" stroke="#ff0000" stroke-width="3.6" stroke-linecap="round"/>
<path d="M1305.50,405.00 L1304.67,416.97 L1296.16,412.53 Z" fill="#ff0000" stroke="#ff0000" stroke-width="0.8" stroke-linejoin="miter"/>
<line x1="1305.50" y1="405.00" x2="1341.48" y2="486.85" stroke="#ff0000" stroke-width="3.6" stroke-linecap="round"/>
<path d="M1345.50,496.00 L1336.68,487.86 L1345.47,484.00 Z" fill="#ff0000" stroke="#ff0000" stroke-width="0.8" stroke-linejoin="miter"/>
<line x1="1345.50" y1="496.00" x2="1369.07" y2="401.70" stroke="#ff0000" stroke-width="3.6" stroke-linecap="round"/>
<path d="M1371.50,392.00 L1373.49,403.84 L1364.18,401.51 Z" fill="#ff0000" stroke="#ff0000" stroke-width="0.8" stroke-linejoin="miter"/>
<line x1="1371.50" y1="392.00" x2="1401.72" y2="479.05" stroke="#ff0000" stroke-width="3.6" stroke-linecap="round"/>
<path d="M1405.00,488.50 L1396.86,479.68 L1405.93,476.53 Z" fill="#ff0000" stroke="#ff0000" stroke-width="0.8" stroke-linejoin="miter"/>
</g>
<g clip-path="url(#cmacd)">
<rect x="0" y="622" width="1" height="1" fill="#c0c0c0" />
<rect x="8" y="619" width="1" height="4" fill="#c0c0c0" />
<rect x="16" y="617" width="1" height="6" fill="#c0c0c0" />
<rect x="24" y="616" width="1" height="7" fill="#c0c0c0" />
<rect x="32" y="616" width="1" height="7" fill="#c0c0c0" />
<rect x="40" y="614" width="1" height="9" fill="#c0c0c0" />
<rect x="48" y="610" width="1" height="13" fill="#c0c0c0" />
<rect x="56" y="603" width="1" height="20" fill="#c0c0c0" />
<rect x="64" y="597" width="1" height="26" fill="#c0c0c0" />
<rect x="72" y="594" width="1" height="29" fill="#c0c0c0" />
<rect x="80" y="593" width="1" height="30" fill="#c0c0c0" />
<rect x="88" y="591" width="1" height="32" fill="#c0c0c0" />
<rect x="96" y="595" width="1" height="28" fill="#c0c0c0" />
<rect x="104" y="597" width="1" height="26" fill="#c0c0c0" />
<rect x="112" y="601" width="1" height="22" fill="#c0c0c0" />
<rect x="120" y="606" width="1" height="17" fill="#c0c0c0" />
<rect x="128" y="609" width="1" height="14" fill="#c0c0c0" />
<rect x="136" y="615" width="1" height="8" fill="#c0c0c0" />
<rect x="144" y="617" width="1" height="6" fill="#c0c0c0" />
<rect x="152" y="615" width="1" height="8" fill="#c0c0c0" />
<rect x="160" y="615" width="1" height="8" fill="#c0c0c0" />
<rect x="168" y="614" width="1" height="9" fill="#c0c0c0" />
<rect x="176" y="612" width="1" height="11" fill="#c0c0c0" />
<rect x="184" y="609" width="1" height="14" fill="#c0c0c0" />
<rect x="192" y="609" width="1" height="14" fill="#c0c0c0" />
<rect x="200" y="612" width="1" height="11" fill="#c0c0c0" />
<rect x="208" y="614" width="1" height="9" fill="#c0c0c0" />
<rect x="216" y="613" width="1" height="10" fill="#c0c0c0" />
<rect x="224" y="614" width="1" height="9" fill="#c0c0c0" />
<rect x="232" y="614" width="1" height="9" fill="#c0c0c0" />
<rect x="240" y="614" width="1" height="9" fill="#c0c0c0" />
<rect x="248" y="614" width="1" height="9" fill="#c0c0c0" />
<rect x="256" y="614" width="1" height="9" fill="#c0c0c0" />
<rect x="264" y="615" width="1" height="8" fill="#c0c0c0" />
<rect x="272" y="614" width="1" height="9" fill="#c0c0c0" />
<rect x="280" y="612" width="1" height="11" fill="#c0c0c0" />
<rect x="288" y="609" width="1" height="14" fill="#c0c0c0" />
<rect x="296" y="605" width="1" height="18" fill="#c0c0c0" />
<rect x="304" y="601" width="1" height="22" fill="#c0c0c0" />
<rect x="312" y="598" width="1" height="25" fill="#c0c0c0" />
<rect x="320" y="594" width="1" height="29" fill="#c0c0c0" />
<rect x="328" y="590" width="1" height="33" fill="#c0c0c0" />
<rect x="336" y="587" width="1" height="36" fill="#c0c0c0" />
<rect x="344" y="588" width="1" height="35" fill="#c0c0c0" />
<rect x="352" y="588" width="1" height="35" fill="#c0c0c0" />
<rect x="360" y="590" width="1" height="33" fill="#c0c0c0" />
<rect x="368" y="595" width="1" height="28" fill="#c0c0c0" />
<rect x="376" y="601" width="1" height="22" fill="#c0c0c0" />
<rect x="384" y="607" width="1" height="16" fill="#c0c0c0" />
<rect x="392" y="614" width="1" height="9" fill="#c0c0c0" />
<rect x="400" y="618" width="1" height="5" fill="#c0c0c0" />
<rect x="408" y="620" width="1" height="3" fill="#c0c0c0" />
<rect x="416" y="622" width="1" height="7" fill="#c0c0c0" />
<rect x="424" y="622" width="1" height="15" fill="#c0c0c0" />
<rect x="432" y="622" width="1" height="19" fill="#c0c0c0" />
<rect x="440" y="622" width="1" height="21" fill="#c0c0c0" />
<rect x="448" y="622" width="1" height="25" fill="#c0c0c0" />
<rect x="456" y="622" width="1" height="25" fill="#c0c0c0" />
<rect x="464" y="622" width="1" height="29" fill="#c0c0c0" />
<rect x="472" y="622" width="1" height="28" fill="#c0c0c0" />
<rect x="480" y="622" width="1" height="26" fill="#c0c0c0" />
<rect x="488" y="622" width="1" height="28" fill="#c0c0c0" />
<rect x="496" y="622" width="1" height="24" fill="#c0c0c0" />
<rect x="504" y="622" width="1" height="19" fill="#c0c0c0" />
<rect x="512" y="622" width="1" height="13" fill="#c0c0c0" />
<rect x="520" y="622" width="1" height="8" fill="#c0c0c0" />
<rect x="528" y="622" width="1" height="4" fill="#c0c0c0" />
<rect x="536" y="621" width="1" height="2" fill="#c0c0c0" />
<rect x="544" y="618" width="1" height="5" fill="#c0c0c0" />
<rect x="552" y="619" width="1" height="4" fill="#c0c0c0" />
<rect x="560" y="618" width="1" height="5" fill="#c0c0c0" />
<rect x="568" y="615" width="1" height="8" fill="#c0c0c0" />
<rect x="576" y="614" width="1" height="9" fill="#c0c0c0" />
<rect x="584" y="618" width="1" height="5" fill="#c0c0c0" />
<rect x="592" y="620" width="1" height="3" fill="#c0c0c0" />
<rect x="600" y="622" width="1" height="4" fill="#c0c0c0" />
<rect x="608" y="622" width="1" height="8" fill="#c0c0c0" />
<rect x="616" y="622" width="1" height="13" fill="#c0c0c0" />
<rect x="624" y="622" width="1" height="18" fill="#c0c0c0" />
<rect x="632" y="622" width="1" height="18" fill="#c0c0c0" />
<rect x="640" y="622" width="1" height="18" fill="#c0c0c0" />
<rect x="648" y="622" width="1" height="19" fill="#c0c0c0" />
<rect x="656" y="622" width="1" height="22" fill="#c0c0c0" />
<rect x="664" y="622" width="1" height="24" fill="#c0c0c0" />
<rect x="672" y="622" width="1" height="30" fill="#c0c0c0" />
<rect x="680" y="622" width="1" height="29" fill="#c0c0c0" />
<rect x="688" y="622" width="1" height="30" fill="#c0c0c0" />
<rect x="696" y="622" width="1" height="33" fill="#c0c0c0" />
<rect x="704" y="622" width="1" height="38" fill="#c0c0c0" />
<rect x="712" y="622" width="1" height="41" fill="#c0c0c0" />
<rect x="720" y="622" width="1" height="46" fill="#c0c0c0" />
<rect x="728" y="622" width="1" height="52" fill="#c0c0c0" />
<rect x="736" y="622" width="1" height="45" fill="#c0c0c0" />
<rect x="744" y="622" width="1" height="37" fill="#c0c0c0" />
<rect x="752" y="622" width="1" height="39" fill="#c0c0c0" />
<rect x="760" y="622" width="1" height="35" fill="#c0c0c0" />
<rect x="768" y="622" width="1" height="31" fill="#c0c0c0" />
<rect x="776" y="622" width="1" height="28" fill="#c0c0c0" />
<rect x="784" y="622" width="1" height="25" fill="#c0c0c0" />
<rect x="792" y="622" width="1" height="24" fill="#c0c0c0" />
<rect x="800" y="622" width="1" height="27" fill="#c0c0c0" />
<rect x="808" y="622" width="1" height="32" fill="#c0c0c0" />
<rect x="816" y="622" width="1" height="37" fill="#c0c0c0" />
<rect x="824" y="622" width="1" height="48" fill="#c0c0c0" />
<rect x="832" y="622" width="1" height="59" fill="#c0c0c0" />
<rect x="840" y="622" width="1" height="66" fill="#c0c0c0" />
<rect x="848" y="622" width="1" height="69" fill="#c0c0c0" />
<rect x="856" y="622" width="1" height="63" fill="#c0c0c0" />
<rect x="864" y="622" width="1" height="58" fill="#c0c0c0" />
<rect x="872" y="622" width="1" height="51" fill="#c0c0c0" />
<rect x="880" y="622" width="1" height="43" fill="#c0c0c0" />
<rect x="888" y="622" width="1" height="31" fill="#c0c0c0" />
<rect x="896" y="622" width="1" height="18" fill="#c0c0c0" />
<rect x="904" y="622" width="1" height="9" fill="#c0c0c0" />
<rect x="912" y="622" width="1" height="9" fill="#c0c0c0" />
<rect x="920" y="622" width="1" height="11" fill="#c0c0c0" />
<rect x="928" y="622" width="1" height="7" fill="#c0c0c0" />
<rect x="936" y="622" width="1" height="2" fill="#c0c0c0" />
<rect x="944" y="619" width="1" height="4" fill="#c0c0c0" />
<rect x="952" y="618" width="1" height="5" fill="#c0c0c0" />
<rect x="960" y="612" width="1" height="11" fill="#c0c0c0" />
<rect x="968" y="606" width="1" height="17" fill="#c0c0c0" />
<rect x="976" y="606" width="1" height="17" fill="#c0c0c0" />
<rect x="984" y="607" width="1" height="16" fill="#c0c0c0" />
<rect x="992" y="613" width="1" height="10" fill="#c0c0c0" />
<rect x="1000" y="619" width="1" height="4" fill="#c0c0c0" />
<rect x="1008" y="622" width="1" height="1" fill="#c0c0c0" />
<rect x="1016" y="622" width="1" height="5" fill="#c0c0c0" />
<rect x="1024" y="622" width="1" height="6" fill="#c0c0c0" />
<rect x="1032" y="622" width="1" height="5" fill="#c0c0c0" />
<rect x="1040" y="622" width="1" height="2" fill="#c0c0c0" />
<rect x="1048" y="621" width="1" height="2" fill="#c0c0c0" />
<rect x="1056" y="619" width="1" height="4" fill="#c0c0c0" />
<rect x="1064" y="618" width="1" height="5" fill="#c0c0c0" />
<rect x="1072" y="620" width="1" height="3" fill="#c0c0c0" />
<rect x="1080" y="620" width="1" height="3" fill="#c0c0c0" />
<rect x="1088" y="622" width="1" height="3" fill="#c0c0c0" />
<rect x="1096" y="622" width="1" height="7" fill="#c0c0c0" />
<rect x="1104" y="622" width="1" height="9" fill="#c0c0c0" />
<rect x="1112" y="622" width="1" height="20" fill="#c0c0c0" />
<rect x="1120" y="622" width="1" height="27" fill="#c0c0c0" />
<rect x="1128" y="622" width="1" height="34" fill="#c0c0c0" />
<rect x="1136" y="622" width="1" height="40" fill="#c0c0c0" />
<rect x="1144" y="622" width="1" height="46" fill="#c0c0c0" />
<rect x="1152" y="622" width="1" height="56" fill="#c0c0c0" />
<rect x="1160" y="622" width="1" height="70" fill="#c0c0c0" />
<rect x="1168" y="622" width="1" height="80" fill="#c0c0c0" />
<rect x="1176" y="622" width="1" height="81" fill="#c0c0c0" />
<rect x="1184" y="622" width="1" height="87" fill="#c0c0c0" />
<rect x="1192" y="622" width="1" height="91" fill="#c0c0c0" />
<rect x="1200" y="622" width="1" height="97" fill="#c0c0c0" />
<rect x="1208" y="622" width="1" height="99" fill="#c0c0c0" />
<rect x="1216" y="622" width="1" height="108" fill="#c0c0c0" />
<rect x="1224" y="622" width="1" height="113" fill="#c0c0c0" />
<rect x="1232" y="622" width="1" height="116" fill="#c0c0c0" />
<rect x="1240" y="622" width="1" height="118" fill="#c0c0c0" />
<rect x="1248" y="622" width="1" height="116" fill="#c0c0c0" />
<rect x="1256" y="622" width="1" height="114" fill="#c0c0c0" />
<rect x="1264" y="622" width="1" height="107" fill="#c0c0c0" />
<rect x="1272" y="622" width="1" height="100" fill="#c0c0c0" />
<rect x="1280" y="622" width="1" height="88" fill="#c0c0c0" />
<rect x="1288" y="622" width="1" height="76" fill="#c0c0c0" />
<rect x="1296" y="622" width="1" height="66" fill="#c0c0c0" />
<rect x="1304" y="622" width="1" height="53" fill="#c0c0c0" />
<rect x="1312" y="622" width="1" height="45" fill="#c0c0c0" />
<rect x="1320" y="622" width="1" height="40" fill="#c0c0c0" />
<rect x="1328" y="622" width="1" height="38" fill="#c0c0c0" />
<rect x="1336" y="622" width="1" height="37" fill="#c0c0c0" />
<rect x="1344" y="622" width="1" height="33" fill="#c0c0c0" />
<rect x="1352" y="622" width="1" height="35" fill="#c0c0c0" />
<rect x="1360" y="622" width="1" height="31" fill="#c0c0c0" />
<rect x="1368" y="622" width="1" height="26" fill="#c0c0c0" />
<rect x="1376" y="622" width="1" height="26" fill="#c0c0c0" />
<rect x="1384" y="622" width="1" height="27" fill="#c0c0c0" />
<polyline points="0.50,654.90 6.00,650.50 11.50,644.10 17.50,638.50 24.10,634.40 29.80,630.60 35.50,626.50 41.50,623.00 47.50,620.40 53.50,616.80 59.50,613.90 64.50,613.01 72.50,609.95 80.50,606.99 88.50,604.02 96.50,601.61 104.50,599.60 112.50,598.22 120.50,597.79 128.50,598.56 136.50,600.56 144.50,603.07 152.50,605.57 160.50,608.26 168.50,610.46 176.50,612.02 184.50,612.86 192.50,613.24 200.50,613.50 208.50,613.43 216.50,613.08 224.50,612.90 232.50,612.85 240.50,612.82 248.50,613.10 256.50,613.72 264.50,614.40 272.50,614.63 280.50,614.36 288.50,613.85 296.50,612.86 304.50,611.40 312.50,609.60 320.50,607.37 328.50,604.66 336.50,601.46 344.50,598.55 352.50,595.88 360.50,593.83 368.50,592.78 376.50,592.78 384.50,593.83 392.50,596.01 400.50,599.17 408.50,602.84 416.50,607.33 424.50,612.73 432.50,618.21 440.50,623.40 448.50,628.38 456.50,632.73 464.50,636.75 472.50,640.17 480.50,643.27 488.50,645.63 496.50,646.61 504.50,646.64 512.50,645.75 520.50,643.82 528.50,641.42 536.50,638.24 544.50,634.83 552.50,631.68 560.50,628.25 568.50,624.90 576.50,621.99 584.50,620.22 592.50,619.28 600.50,619.31 608.50,620.17 616.50,621.93 624.50,624.19 632.50,626.46 640.50,629.08 648.50,631.96 656.50,634.74 664.50,637.47 672.50,640.32 680.50,642.68 688.50,644.58 696.50,646.22 704.50,648.44 712.50,651.10 720.50,654.12 728.50,657.40 736.50,659.72 744.50,660.58 752.50,661.62 760.50,662.11 768.50,661.90 776.50,660.86 784.50,659.02 792.50,656.52 800.50,653.74 808.50,652.32 816.50,652.28 824.50,653.36 832.50,656.05 840.50,659.90 848.50,664.42 856.50,668.70 864.50,672.50 872.50,675.18 880.50,676.36 888.50,675.70 896.50,672.37 904.50,666.76 912.50,660.40 920.50,653.92 928.50,647.62 936.50,641.43 944.50,635.60 952.50,630.52 960.50,626.10 968.50,622.46 976.50,619.89 984.50,617.31 992.50,615.23 1000.50,614.26 1008.50,614.09 1016.50,614.81 1024.50,615.81 1032.50,617.34 1040.50,619.20 1048.50,620.81 1056.50,622.20 1064.50,622.80 1072.50,622.91 1080.50,622.78 1088.50,622.58 1096.50,622.76 1104.50,623.15 1112.50,625.14 1120.50,628.18 1128.50,632.22 1136.50,637.00 1144.50,642.25 1152.50,648.52 1160.50,656.02 1168.50,664.03 1176.50,672.02 1184.50,679.40 1192.50,686.43 1200.50,693.43 1208.50,699.94 1216.50,706.80 1224.50,713.10 1232.50,718.22 1240.50,722.49 1248.50,726.42 1256.50,729.48 1264.50,731.36 1272.50,731.63 1280.50,730.39 1288.50,726.82 1296.50,721.69 1304.50,714.65 1312.50,706.58 1320.50,698.15 1328.50,689.72 1336.50,681.87 1344.50,674.38 1352.50,668.55 1360.50,663.56 1368.50,659.09 1376.50,656.08 1384.50,654.03" fill="none" stroke="#ff0000" stroke-width="1" shape-rendering="crispEdges" stroke-dasharray="3,3"/>
<line x1="1318.00" y1="654.30" x2="1382.01" y2="651.79" stroke="#ff0000" stroke-width="3.2" stroke-linecap="round"/>
<path d="M1392.00,651.40 L1381.19,656.53 L1380.82,647.13 Z" fill="#ff0000" stroke="#ff0000" stroke-width="0.8" stroke-linejoin="miter"/>
</g>
<g clip-path="url(#crsi)">
<line x1="-1" y1="785.5" x2="1651" y2="785.5" stroke="#b4b4b4" stroke-width="1" stroke-dasharray="3,3"/>
<line x1="-1" y1="836.5" x2="1651" y2="836.5" stroke="#b4b4b4" stroke-width="1" stroke-dasharray="3,3"/>
<line x1="-1" y1="897.5" x2="1651" y2="897.5" stroke="#b4b4b4" stroke-width="1" stroke-dasharray="3,3"/>
<polyline points="0.50,824.44 8.50,832.72 16.50,832.47 24.50,833.06 32.50,833.21 40.50,830.40 48.50,824.49 56.50,817.23 64.50,816.08 72.50,821.10 80.50,822.21 88.50,819.48 96.50,834.43 104.50,833.27 112.50,836.54 120.50,840.25 128.50,840.12 136.50,846.48 144.50,838.91 152.50,830.46 160.50,832.48 168.50,831.94 176.50,824.13 184.50,822.34 192.50,831.65 200.50,838.58 208.50,839.31 216.50,830.53 224.50,832.71 232.50,834.81 240.50,831.69 248.50,831.01 256.50,833.18 264.50,835.72 272.50,825.82 280.50,822.37 288.50,817.43 296.50,810.60 304.50,809.43 312.50,806.96 320.50,802.08 328.50,798.84 336.50,797.12 344.50,817.38 352.50,814.08 360.50,825.81 368.50,835.86 376.50,844.10 384.50,847.95 392.50,852.93 400.50,851.95 408.50,839.04 416.50,862.06 424.50,866.40 432.50,854.32 440.50,852.77 448.50,859.86 456.50,849.18 464.50,857.93 472.50,847.44 480.50,844.34 488.50,852.96 496.50,837.60 504.50,833.35 512.50,828.03 520.50,827.51 528.50,828.43 536.50,827.05 544.50,827.05 552.50,837.51 560.50,832.65 568.50,824.24 576.50,830.19 584.50,845.19 592.50,842.08 600.50,850.43 608.50,851.09 616.50,857.20 624.50,859.88 632.50,842.83 640.50,844.61 648.50,849.31 656.50,855.46 664.50,853.82 672.50,865.02 680.50,848.01 688.50,852.35 696.50,857.55 704.50,863.06 712.50,864.10 720.50,868.62 728.50,872.59 736.50,839.52 744.50,836.22 752.50,851.19 760.50,841.46 768.50,840.90 776.50,841.44 784.50,838.75 792.50,843.43 800.50,852.31 808.50,858.60 816.50,860.94 824.50,872.31 832.50,875.53 840.50,872.71 848.50,867.69 856.50,847.04 864.50,846.67 872.50,840.99 880.50,836.43 888.50,826.75 896.50,819.94 904.50,821.49 912.50,840.02 920.50,843.75 928.50,832.07 936.50,829.97 944.50,829.25 952.50,833.20 960.50,824.25 968.50,820.90 976.50,832.00 984.50,831.88 992.50,845.44 1000.50,846.73 1008.50,842.04 1016.50,846.32 1024.50,841.05 1032.50,837.28 1040.50,831.35 1048.50,831.80 1056.50,831.38 1064.50,834.06 1072.50,839.46 1080.50,837.69 1088.50,846.58 1096.50,851.62 1104.50,843.62 1112.50,865.90 1120.50,860.93 1128.50,864.15 1136.50,865.57 1144.50,867.89 1152.50,876.83 1160.50,885.12 1168.50,880.72 1176.50,864.27 1184.50,872.17 1192.50,872.52 1200.50,878.08 1208.50,869.74 1216.50,879.23 1224.50,876.65 1232.50,878.05 1240.50,877.55 1248.50,871.81 1256.50,873.11 1264.50,861.02 1272.50,858.33 1280.50,844.50 1288.50,840.72 1296.50,843.06 1304.50,830.83 1312.50,838.29 1320.50,841.40 1328.50,846.58 1336.50,847.78 1344.50,840.83 1352.50,853.79 1360.50,838.95 1368.50,837.55 1376.50,845.01 1384.50,847.55" fill="none" stroke="#1e90ff" stroke-width="1" shape-rendering="crispEdges" />
<line x1="1301.30" y1="830.40" x2="1380.26" y2="844.63" stroke="#ff0000" stroke-width="3.4" stroke-linecap="round"/>
<path d="M1390.10,846.40 L1378.46,848.98 L1380.09,839.92 Z" fill="#ff0000" stroke="#ff0000" stroke-width="0.8" stroke-linejoin="miter"/>
</g>
<rect x="0" y="22" width="1652" height="1" fill="#000" />
<rect x="0" y="575" width="1652" height="1" fill="#000" />
<rect x="0" y="577" width="1652" height="1" fill="#000" />
<rect x="0" y="747" width="1652" height="1" fill="#000" />
<rect x="0" y="749" width="1652" height="1" fill="#000" />
<rect x="0" y="923" width="1652" height="1" fill="#000" />
<rect x="1651" y="22" width="1" height="902" fill="#000" />
<rect x="1697" y="20" width="1" height="913" fill="#d6d6d6" />
<rect x="1652" y="44" width="3" height="1" fill="#000" />
<text x="1657" y="47.5" font-size="9" fill="#000" text-anchor="start" font-weight="normal" >27902.0</text>
<rect x="1652" y="77" width="3" height="1" fill="#000" />
<text x="1657" y="80.5" font-size="9" fill="#000" text-anchor="start" font-weight="normal" >27674.5</text>
<rect x="1652" y="110" width="3" height="1" fill="#000" />
<text x="1657" y="113.5" font-size="9" fill="#000" text-anchor="start" font-weight="normal" >27440.5</text>
<rect x="1652" y="143" width="3" height="1" fill="#000" />
<text x="1657" y="146.5" font-size="9" fill="#000" text-anchor="start" font-weight="normal" >27213.0</text>
<rect x="1652" y="176" width="3" height="1" fill="#000" />
<text x="1657" y="179.5" font-size="9" fill="#000" text-anchor="start" font-weight="normal" >26985.5</text>
<rect x="1652" y="209" width="3" height="1" fill="#000" />
<text x="1657" y="212.5" font-size="9" fill="#000" text-anchor="start" font-weight="normal" >26751.5</text>
<rect x="1652" y="242" width="3" height="1" fill="#000" />
<text x="1657" y="245.5" font-size="9" fill="#000" text-anchor="start" font-weight="normal" >26524.0</text>
<rect x="1652" y="275" width="3" height="1" fill="#000" />
<text x="1657" y="278.5" font-size="9" fill="#000" text-anchor="start" font-weight="normal" >26296.5</text>
<rect x="1652" y="308" width="3" height="1" fill="#000" />
<text x="1657" y="311.5" font-size="9" fill="#000" text-anchor="start" font-weight="normal" >26062.5</text>
<rect x="1652" y="341" width="3" height="1" fill="#000" />
<text x="1657" y="344.5" font-size="9" fill="#000" text-anchor="start" font-weight="normal" >25835.0</text>
<rect x="1652" y="374" width="3" height="1" fill="#000" />
<text x="1657" y="377.5" font-size="9" fill="#000" text-anchor="start" font-weight="normal" >25607.5</text>
<rect x="1652" y="407" width="3" height="1" fill="#000" />
<text x="1657" y="410.5" font-size="9" fill="#000" text-anchor="start" font-weight="normal" >25379.5</text>
<rect x="1652" y="440" width="3" height="1" fill="#000" />
<text x="1657" y="443.5" font-size="9" fill="#000" text-anchor="start" font-weight="normal" >25146.0</text>
<rect x="1652" y="506" width="3" height="1" fill="#000" />
<text x="1657" y="509.5" font-size="9" fill="#000" text-anchor="start" font-weight="normal" >24684.5</text>
<rect x="1652" y="539" width="3" height="1" fill="#000" />
<text x="1657" y="542.5" font-size="9" fill="#000" text-anchor="start" font-weight="normal" >24457.0</text>
<rect x="1652" y="572" width="3" height="1" fill="#000" />
<text x="1657" y="575.5" font-size="9" fill="#000" text-anchor="start" font-weight="normal" >24229.5</text>
<rect x="1653" y="398" width="41" height="11" fill="#ff0000" />
<text x="1657" y="406.7" font-size="9" fill="#fff" text-anchor="start" font-weight="normal" >25398.3</text>
<rect x="1653" y="423" width="41" height="11" fill="#ff0000" />
<text x="1657" y="431.7" font-size="9" fill="#fff" text-anchor="start" font-weight="normal" >25224.6</text>
<rect x="1653" y="449" width="41" height="11" fill="#32cd32" />
<text x="1657" y="457.7" font-size="9" fill="#fff" text-anchor="start" font-weight="normal" >25043.9</text>
<rect x="1653" y="468" width="41" height="11" fill="#000" />
<text x="1657" y="476.7" font-size="9" fill="#fff" text-anchor="start" font-weight="normal" >24910.0</text>
<rect x="1653" y="492" width="41" height="11" fill="#0000ff" />
<text x="1657" y="500.7" font-size="9" fill="#fff" text-anchor="start" font-weight="normal" >24745.1</text>
<rect x="1653" y="529" width="41" height="11" fill="#0000ff" />
<text x="1657" y="537.7" font-size="9" fill="#fff" text-anchor="start" font-weight="normal" >24488.0</text>
<rect x="1652" y="579" width="2" height="1" fill="#000" />
<text x="1655" y="588" font-size="9.4" fill="#000" text-anchor="start" font-weight="normal" >175.61</text>
<rect x="1652" y="622" width="3" height="1" fill="#000" />
<text x="1656" y="625.5" font-size="9.2" fill="#000" text-anchor="start" font-weight="normal" >0.00</text>
<rect x="1652" y="746" width="2" height="1" fill="#000" />
<text x="1654.6" y="744.3" font-size="9.4" fill="#000" text-anchor="start" font-weight="normal" >-505.11</text>
<rect x="1652" y="751" width="2" height="1" fill="#000" />
<text x="1655.2" y="760" font-size="9.3" fill="#000" text-anchor="start" font-weight="normal" >100</text>
<text x="1654.4" y="788.7" font-size="9.3" fill="#000" text-anchor="start" font-weight="normal" >80</text>
<text x="1654.4" y="839.7" font-size="9.3" fill="#000" text-anchor="start" font-weight="normal" >50</text>
<text x="1654.4" y="900.7" font-size="9.3" fill="#000" text-anchor="start" font-weight="normal" >15</text>
<rect x="1652" y="922" width="2" height="1" fill="#000" />
<text x="1654.6" y="920" font-size="9.3" fill="#000" text-anchor="start" font-weight="normal" >0</text>
<text x="4.5" y="935.3" font-size="9" fill="#000" text-anchor="start" font-weight="normal" >Jan 2022</text>
<rect x="56" y="924" width="1" height="3" fill="#000" />
<text x="55.5" y="935.3" font-size="9" fill="#000" text-anchor="start" font-weight="normal" >2 Feb 00:00</text>
<rect x="120" y="924" width="1" height="3" fill="#000" />
<text x="119.5" y="935.3" font-size="9" fill="#000" text-anchor="start" font-weight="normal" >3 Feb 10:55</text>
<rect x="184" y="924" width="1" height="3" fill="#000" />
<text x="183.5" y="935.3" font-size="9" fill="#000" text-anchor="start" font-weight="normal" >4 Feb 18:55</text>
<rect x="248" y="924" width="1" height="3" fill="#000" />
<text x="247.5" y="935.3" font-size="9" fill="#000" text-anchor="start" font-weight="normal" >8 Feb 00:00</text>
<rect x="312" y="924" width="1" height="3" fill="#000" />
<text x="311.5" y="935.3" font-size="9" fill="#000" text-anchor="start" font-weight="normal" >9 Feb 10:55</text>
<rect x="376" y="924" width="1" height="3" fill="#000" />
<text x="375.5" y="935.3" font-size="9" fill="#000" text-anchor="start" font-weight="normal" >10 Feb 18:55</text>
<rect x="440" y="924" width="1" height="3" fill="#000" />
<text x="439.5" y="935.3" font-size="9" fill="#000" text-anchor="start" font-weight="normal" >14 Feb 00:00</text>
<rect x="504" y="924" width="1" height="3" fill="#000" />
<text x="503.5" y="935.3" font-size="9" fill="#000" text-anchor="start" font-weight="normal" >15 Feb 10:55</text>
<rect x="568" y="924" width="1" height="3" fill="#000" />
<text x="567.5" y="935.3" font-size="9" fill="#000" text-anchor="start" font-weight="normal" >16 Feb 18:55</text>
<rect x="632" y="924" width="1" height="3" fill="#000" />
<text x="631.5" y="935.3" font-size="9" fill="#000" text-anchor="start" font-weight="normal" >18 Feb 00:00</text>
<rect x="696" y="924" width="1" height="3" fill="#000" />
<text x="695.5" y="935.3" font-size="9" fill="#000" text-anchor="start" font-weight="normal" >21 Feb 10:55</text>
<rect x="760" y="924" width="1" height="3" fill="#000" />
<text x="759.5" y="935.3" font-size="9" fill="#000" text-anchor="start" font-weight="normal" >22 Feb 18:55</text>
<rect x="824" y="924" width="1" height="3" fill="#000" />
<text x="823.5" y="935.3" font-size="9" fill="#000" text-anchor="start" font-weight="normal" >24 Feb 00:00</text>
<rect x="888" y="924" width="1" height="3" fill="#000" />
<text x="887.5" y="935.3" font-size="9" fill="#000" text-anchor="start" font-weight="normal" >25 Feb 10:55</text>
<rect x="952" y="924" width="1" height="3" fill="#000" />
<text x="951.5" y="935.3" font-size="9" fill="#000" text-anchor="start" font-weight="normal" >28 Feb 18:55</text>
<rect x="1016" y="924" width="1" height="3" fill="#000" />
<text x="1015.5" y="935.3" font-size="9" fill="#000" text-anchor="start" font-weight="normal" >2 Mar 00:00</text>
<rect x="1080" y="924" width="1" height="3" fill="#000" />
<text x="1079.5" y="935.3" font-size="9" fill="#000" text-anchor="start" font-weight="normal" >3 Mar 10:55</text>
<rect x="1144" y="924" width="1" height="3" fill="#000" />
<text x="1143.5" y="935.3" font-size="9" fill="#000" text-anchor="start" font-weight="normal" >4 Mar 18:55</text>
<rect x="1208" y="924" width="1" height="3" fill="#000" />
<text x="1207.5" y="935.3" font-size="9" fill="#000" text-anchor="start" font-weight="normal" >8 Mar 00:00</text>
<rect x="1272" y="924" width="1" height="3" fill="#000" />
<text x="1271.5" y="935.3" font-size="9" fill="#000" text-anchor="start" font-weight="normal" >9 Mar 10:55</text>
<rect x="1336" y="924" width="1" height="3" fill="#000" />
<text x="1335.5" y="935.3" font-size="9" fill="#000" text-anchor="start" font-weight="normal" >10 Mar 18:55</text>
<text x="-1" y="589.5" font-size="9" fill="#000" text-anchor="start" font-weight="normal" >MACD(12,26,9) -104.85 -127.75</text>
<text x="-2" y="761.5" font-size="9" fill="#000" text-anchor="start" font-weight="normal" >RSI(14) 43.9718</text>
<text x="6.3" y="34" font-size="9.3" fill="#000" text-anchor="start" font-weight="normal" >JPN225-,H4&#160;&#160;24972.5 24992.5 24900.0 24910.0</text>
<path d="M0,29 L2.5,31.5 L0,31.5 Z" fill="#000"/>
<path d="M1396,23 L1405,23 L1400.5,28 Z" fill="#c0c0c0"/>
<rect x="0" y="42" width="214" height="57" fill="#fff" />
<rect x="0" y="42" width="47" height="25" fill="#a80000"/>
<rect x="0" y="43" width="46" height="23" fill="url(#gsell)"/>
<rect x="0" y="65" width="43" height="1" fill="#8c0000" />
<rect x="0" y="66" width="43" height="1" fill="#f47a7a" />
<rect x="0" y="66" width="104" height="33" fill="#a80000"/>
<rect x="0" y="67" width="103" height="31" fill="url(#gprice)"/>
<rect x="106" y="66" width="108" height="33" fill="#a80000"/>
<rect x="107" y="67" width="106" height="31" fill="url(#gprice)"/>
<rect x="162" y="42" width="52" height="25" fill="#a80000"/>
<rect x="163" y="43" width="50" height="24" fill="url(#gsell)"/>
<rect x="166" y="65" width="44" height="1" fill="#8c0000" />
<rect x="166" y="66" width="44" height="1" fill="#f47a7a" />
<rect x="49.5" y="42.5" width="110" height="21" fill="#fff" stroke="#a0a4a8" stroke-width="1"/>
<rect x="50" y="43" width="20" height="20" fill="url(#gbtn)"/>
<rect x="70" y="43" width="1" height="20" fill="#a0a4a8" />
<rect x="139" y="43" width="20" height="20" fill="url(#gbtn)"/>
<rect x="138" y="43" width="1" height="20" fill="#a0a4a8" />
<path d="M56.5,50.5 L62.5,50.5 L59.5,53.5 Z" fill="#4a5ec0"/>
<path d="M145.5,53.5 L151.5,53.5 L148.5,50.5 Z" fill="#4a5ec0"/>
<text x="134.8" y="57" font-size="12" fill="#000" text-anchor="end" font-weight="normal" >1.00</text>
<text x="7.2" y="58.3" font-size="11.4" fill="#fff" text-anchor="start" font-weight="normal" >SELL</text>
<text x="175.6" y="58.3" font-size="11.6" fill="#fff" text-anchor="start" font-weight="normal" >BUY</text>
<text x="10.6" y="94" font-size="12" fill="#fff" text-anchor="start" font-weight="bold" letter-spacing="0.55">24908</text>
<rect x="50.2" y="90.2" width="4.4" height="3.8" rx="0.8" fill="#fff"/>
<text x="56.9" y="94" font-size="33" fill="#fff" text-anchor="start" font-weight="normal" >5</text>
<text x="120.5" y="94" font-size="12" fill="#fff" text-anchor="start" font-weight="bold" letter-spacing="0.55">24931</text>
<rect x="161.4" y="90.2" width="4.4" height="3.8" rx="0.8" fill="#fff"/>
<text x="168.2" y="94" font-size="33" fill="#fff" text-anchor="start" font-weight="normal" >5</text>
<rect x="0" y="0" width="1698" height="18" fill="#f0f0f0" />
<rect x="0" y="17" width="1698" height="1" fill="#dcdcdc" />
<rect x="0" y="18" width="1698" height="1" fill="#a4a4a4" />
<rect x="0" y="19" width="1698" height="1" fill="#6c6c6c" />
<line x1="0" y1="9" x2="4.5" y2="14" stroke="#c09010" stroke-width="2"/>
<rect x="0" y="2" width="2" height="6" fill="#4d8fd8" />
<rect x="12" y="0" width="1" height="16" fill="#a0a0a0" />
<rect x="13" y="0" width="1" height="16" fill="#ffffff" />
<rect x="22.5" y="-2.5" width="10" height="13" fill="#fafafa" stroke="#8a8a8a"/>
<rect x="24" y="0" width="6" height="1" fill="#b0b0b0" />
<rect x="24" y="3" width="6" height="1" fill="#b0b0b0" />
<rect x="24" y="6" width="5" height="1" fill="#b0b0b0" />
<path d="M26.5,10 h11.5 M32.3,4.3 v11.6" stroke="#18a018" stroke-width="3.6"/>
<path d="M27.5,10 h9.5 M32.3,5.3 v9.6" stroke="#58e058" stroke-width="1.4"/>
<path transform="translate(42,0)" d="M1,1.5 h4 M3,0 v1.5 M0.5,4 h5 M1,6.5 h4 M3,4 v6.5 M1,9.5 l2,-2 l2,2 M7,1 v5 q0,3 -1.5,4.5 M7,3 h4 M9.5,3 v8 M7,1 l4,-1" stroke="#000" stroke-width="1.1" fill="none"/>
<path transform="translate(54.5,0)" d="M0.5,0.5 l2,1.5 M0,4 h2 v5 l1.5,-1.5 M4.5,1 h7 M8.5,1 v9 l-1.5,-1" stroke="#000" stroke-width="1.1" fill="none"/>
<path transform="translate(66,0)" d="M2.5,0 l1,1 M8.5,0 l-1,1 M1.5,1.5 h9 v5 h-9 z M1.5,4 h9 M6,1.5 v9 M0,8.5 h12" stroke="#000" stroke-width="1.1" fill="none"/>
<path d="M89.2,8 L95.4,0 L104.3,8.5 L96.8,13.5 Z" fill="url(#ggold)" stroke="#9a6a10" stroke-width="0.9" stroke-linejoin="round"/>
<path d="M90.5,9.5 L97,13 L103.5,9" fill="none" stroke="#f4e0a0" stroke-width="0.8"/>
<rect x="119" y="-2" width="10.5" height="10" fill="#1e8ee8" stroke="#1070d0" stroke-width="0.6"/>
<rect x="121.5" y="2.5" width="6" height="1.2" fill="#e0f0ff" />
<rect x="121.5" y="5" width="6" height="1" fill="#e0f0ff" />
<rect x="121" y="-2" width="1" height="9" fill="#ffffff" />
<path d="M119.5,13.6 a2.6,2.6 0 0 1 0.2,-5 a3.2,3.2 0 0 1 5.6,-1.8 a3.4,3.4 0 0 1 5.8,2.4 a2.3,2.3 0 0 1 0.6,4.4 Z" fill="url(#gcloud)" stroke="#5a70a0" stroke-width="0.9"/>
<circle cx="152.9" cy="6.1" r="7.6" fill="none" stroke="url(#gsig)" stroke-width="1.1" opacity="0.75"/>
<circle cx="152.9" cy="6.1" r="5.2" fill="none" stroke="url(#gsig)" stroke-width="1.1"/>
<circle cx="152.9" cy="6.1" r="2.2" fill="#2a5cc8"/>
<rect x="152.6" y="6" width="1.2" height="8" fill="#28a028" />
<ellipse cx="180" cy="2.5" rx="7" ry="3.5" fill="#4aa0e0" stroke="#3070b0" stroke-width="0.8"/>
<path d="M173,6 L187,6 L182,13 L178,13 Z" fill="#f0d040" stroke="#b09020" stroke-width="0.8"/>
<circle cx="184.5" cy="9.5" r="3.6" fill="#d02010"/>
<rect x="183" y="8" width="3" height="3" fill="#fff" />
<path transform="translate(194,0)" d="M1.5,0 h8 v10.5 h-8 z M1.5,3.5 h8 M1.5,7 h8" stroke="#000" stroke-width="1.1" fill="none"/>
<path transform="translate(206,0)" d="M0,1.5 h5 M0,5 h5.5 M2.5,5 l-2,5 l5,-1 M4,7 l1,2 M6,2 h5 v7 l-1.5,1 M8.5,0 v3 q0,5 -3,8" stroke="#000" stroke-width="1.1" fill="none"/>
<path transform="translate(218,0)" d="M6,0 v1.5 M0.5,2 h11 M3.5,3 l-2,2.5 M8.5,3 l2,2.5 M2,6 q4,0 8.5,5 M10,6 q-4,0 -9.5,5" stroke="#000" stroke-width="1.1" fill="none"/>
<path transform="translate(230,0)" d="M2,0 h8 v5 h-8 z M2,2.5 h8 M0.5,6 h11 q0,4 -2,5 M3,6 q-1,3 -3,4.5 M6,6 q-1,3 -3,4.5 M9,6 q-1,3 -3,4.5" stroke="#000" stroke-width="1.1" fill="none"/>
<rect x="249" y="0" width="1" height="16" fill="#a0a0a0" />
<rect x="250" y="0" width="1" height="16" fill="#ffffff" />
<rect x="252" y="0" width="3" height="1" fill="#a8a8a8" />
<rect x="252" y="2" width="3" height="1" fill="#a8a8a8" />
<rect x="252" y="4" width="3" height="1" fill="#a8a8a8" />
<rect x="252" y="6" width="3" height="1" fill="#a8a8a8" />
<rect x="252" y="8" width="3" height="1" fill="#a8a8a8" />
<rect x="252" y="10" width="3" height="1" fill="#a8a8a8" />
<rect x="252" y="12" width="3" height="1" fill="#a8a8a8" />
<rect x="252" y="14" width="3" height="1" fill="#a8a8a8" />
<rect x="266" y="0" width="1" height="13" fill="#404040" />
<rect x="264" y="11" width="13" height="1" fill="#404040" />
<path d="M277,9.5 L279,11.5 L277,13.5 Z" fill="#404040"/>
<path d="M268.5,8.5 h3 v-6.5 h2.5" stroke="#20a020" stroke-width="1.3" fill="none"/>
<rect x="286" y="0" width="1" height="16" fill="#a0a0a0" />
<rect x="287" y="0" width="1" height="16" fill="#ffffff" />
<rect x="288" y="0" width="23" height="16" fill="#f8f8f8" />
<rect x="293" y="0" width="1" height="13" fill="#404040" />
<rect x="291" y="11" width="13" height="1" fill="#404040" />
<path d="M304,9.5 L306,11.5 L304,13.5 Z" fill="#404040"/>
<rect x="298" y="0" width="4" height="8" fill="#20c020" stroke="#108010" stroke-width="0.8"/>
<rect x="299.5" y="8" width="1" height="3" fill="#108010" />
<rect x="321" y="0" width="1" height="13" fill="#404040" />
<rect x="319" y="11" width="13" height="1" fill="#404040" />
<path d="M332,9.5 L334,11.5 L332,13.5 Z" fill="#404040"/>
<path d="M321,9 q4,-8 7,-6 q2,1 4,4" stroke="#30a030" stroke-width="1.2" fill="none"/>
<rect x="343" y="0" width="1" height="16" fill="#a0a0a0" />
<rect x="344" y="0" width="1" height="16" fill="#ffffff" />
<circle cx="358" cy="4.5" r="4.8" fill="#d8ecfc" stroke="#3a80d8" stroke-width="1.4"/>
<line x1="361.5" y1="8" x2="366" y2="12.5" stroke="#c8a020" stroke-width="2.6"/>
<rect x="355" y="4" width="6" height="1.6" fill="#3a70c8" />
<rect x="357.2" y="1.8" width="1.6" height="6" fill="#3a70c8" />
<circle cx="386" cy="4.5" r="4.8" fill="#d8ecfc" stroke="#3a80d8" stroke-width="1.4"/>
<line x1="389.5" y1="8" x2="394" y2="12.5" stroke="#c8a020" stroke-width="2.6"/>
<rect x="383" y="4" width="6" height="1.6" fill="#3a70c8" />
<rect x="408" y="-1" width="7.5" height="6" fill="#40a040"/><rect x="416.5" y="-1" width="7.5" height="6" fill="#3a70d0"/>
<rect x="408" y="6" width="7.5" height="7.5" fill="#3a70d0"/><rect x="416.5" y="6" width="7.5" height="7.5" fill="#40a040"/>
<rect x="409.5" y="1" width="4.5" height="2" fill="#fff" />
<rect x="418" y="1" width="4.5" height="2" fill="#fff" />
<rect x="409.5" y="9" width="4.5" height="2" fill="#fff" />
<rect x="418" y="9" width="4.5" height="2" fill="#fff" />
<rect x="433" y="0" width="1" height="16" fill="#a0a0a0" />
<rect x="434" y="0" width="1" height="16" fill="#ffffff" />
<rect x="437" y="0" width="1" height="16" fill="#a0a0a0" />
<rect x="438" y="0" width="1" height="16" fill="#ffffff" />
<rect x="439" y="0" width="23" height="16" fill="#f8f8f8" />
<rect x="446" y="0" width="1" height="13" fill="#404040" />
<rect x="444" y="11" width="13" height="1" fill="#404040" />
<path d="M457,9.5 L459,11.5 L457,13.5 Z" fill="#404040"/>
<path d="M451,1.5 L455.5,5 L451,8.5 Z" fill="#30c030"/>
<rect x="465" y="0" width="1" height="16" fill="#a0a0a0" />
<rect x="466" y="0" width="1" height="16" fill="#ffffff" />
<rect x="467" y="0" width="24" height="16" fill="#f8f8f8" />
<rect x="474" y="0" width="1" height="13" fill="#404040" />
<rect x="472" y="11" width="13" height="1" fill="#404040" />
<path d="M485,9.5 L487,11.5 L485,13.5 Z" fill="#404040"/>
<rect x="480" y="0" width="1" height="10" fill="#2060c0" />
<path d="M487,5 h-4 M482.5,5 l2.5,-2.5 M482.5,5 l2.5,2.5" stroke="#d03020" stroke-width="1.2" fill="none"/>
<rect x="495" y="0" width="1" height="16" fill="#a0a0a0" />
<rect x="496" y="0" width="1" height="16" fill="#ffffff" />
<rect x="505.5" y="-2.5" width="9" height="12" fill="#fafafa" stroke="#808080"/>
<path d="M510,8 h9 M514.5,3.5 v10" stroke="#20b020" stroke-width="3.2"/>
<path d="M510,8 h9 M514.5,3.5 v10" stroke="#60e060" stroke-width="1.2"/>
<path d="M526.5,5 L531.5,5 L529,7.5 Z" fill="#000"/>
<circle cx="551" cy="5.5" r="7.2" fill="#1a5cc0"/><circle cx="551" cy="5.5" r="5" fill="#eef4fc"/>
<path d="M551,2 v3.5 h2.5" stroke="#404040" stroke-width="1" fill="none"/>
<path d="M565.5,5 L570.5,5 L568,7.5 Z" fill="#000"/>
<rect x="582.5" y="-1.5" width="15" height="14" fill="#fff" stroke="#3a70c0"/>
<rect x="583" y="-1" width="14" height="2" fill="#6090d0" />
<path d="M584,4 l3,-1 l3,1 l3,-1 l3,0" stroke="#c03020" fill="none" stroke-width="1"/>
<path d="M584,10 l3,-2 l3,1 l3,-2 l3,2" stroke="#30a030" fill="none" stroke-width="1"/>
<rect x="583" y="6.5" width="14" height="1" fill="#3a70c0" />
<path d="M604.5,5 L609.5,5 L607,7.5 Z" fill="#000"/>
<rect x="616" y="0" width="1" height="16" fill="#a0a0a0" />
<rect x="617" y="0" width="1" height="16" fill="#ffffff" />
<rect x="620" y="0" width="3" height="1" fill="#a8a8a8" />
<rect x="620" y="2" width="3" height="1" fill="#a8a8a8" />
<rect x="620" y="4" width="3" height="1" fill="#a8a8a8" />
<rect x="620" y="6" width="3" height="1" fill="#a8a8a8" />
<rect x="620" y="8" width="3" height="1" fill="#a8a8a8" />
<rect x="620" y="10" width="3" height="1" fill="#a8a8a8" />
<rect x="620" y="12" width="3" height="1" fill="#a8a8a8" />
<rect x="620" y="14" width="3" height="1" fill="#a8a8a8" />
<rect x="626" y="0" width="1" height="16" fill="#a0a0a0" />
<rect x="627" y="0" width="1" height="16" fill="#ffffff" />
<rect x="628" y="0" width="23" height="16" fill="#f8f8f8" />
<path d="M634,0 L634,10 L636.5,7.5 L639,12 L640.5,11 L638.5,7 L642,7 Z" fill="#404040"/>
<rect x="659" y="6" width="15" height="1" fill="#505050" />
<rect x="666" y="0" width="1" height="13" fill="#505050" />
<rect x="684" y="0" width="1" height="16" fill="#a0a0a0" />
<rect x="685" y="0" width="1" height="16" fill="#ffffff" />
<rect x="700" y="0" width="1" height="13" fill="#505050" />
<rect x="723" y="6" width="12" height="1" fill="#505050" />
<line x1="750" y1="12.5" x2="763" y2="0" stroke="#505050" stroke-width="1"/>
<path d="M776,9 l10,-9 M779,12 l10,-9 M778,6 l3,3 M781,3 l3,3 M784,0 l3,3" stroke="#606060" stroke-width="1" fill="none"/>
<text x="788" y="14.5" font-size="6.5" fill="#404040" text-anchor="start" font-weight="bold" >E</text>
<path d="M805,2.5 h14 M805,5.5 h14 M805,8.5 h14 M805,11.5 h10" stroke="#707070" stroke-width="1" stroke-dasharray="1,1" fill="none"/>
<text x="815" y="15.5" font-size="6.5" fill="#404040" text-anchor="start" font-weight="bold" >F</text>
<text x="835.3" y="10.5" font-size="11" fill="#505050" text-anchor="start" font-weight="normal" >A</text>
<rect x="862.5" y="0.5" width="12" height="12" fill="none" stroke="#808080" stroke-dasharray="1,1"/>
<text x="864.5" y="10" font-size="10" fill="#404040" text-anchor="start" font-weight="bold" >T</text>
<path d="M891,2 l3,-3 l3,3 Z M897,9 l3,3 l3,-3 Z" fill="#404040"/><path d="M892,5 l4,5 l6,-9" stroke="#404040" stroke-width="1.3" fill="none"/>
<path d="M910.5,5 L915.5,5 L913,7.5 Z" fill="#000"/>
<rect x="922" y="0" width="1" height="16" fill="#a0a0a0" />
<rect x="923" y="0" width="1" height="16" fill="#ffffff" />
<rect x="926" y="0" width="3" height="1" fill="#a8a8a8" />
<rect x="926" y="2" width="3" height="1" fill="#a8a8a8" />
<rect x="926" y="4" width="3" height="1" fill="#a8a8a8" />
<rect x="926" y="6" width="3" height="1" fill="#a8a8a8" />
<rect x="926" y="8" width="3" height="1" fill="#a8a8a8" />
<rect x="926" y="10" width="3" height="1" fill="#a8a8a8" />
<rect x="926" y="12" width="3" height="1" fill="#a8a8a8" />
<rect x="926" y="14" width="3" height="1" fill="#a8a8a8" />
<text x="936.5999999999999" y="10.2" font-size="9.4" fill="#303030" text-anchor="start" font-weight="normal" letter-spacing="0.35">M1</text>
<text x="964.8" y="10.2" font-size="9.4" fill="#303030" text-anchor="start" font-weight="normal" letter-spacing="0.35">M5</text>
<text x="990.6999999999999" y="10.2" font-size="9.4" fill="#303030" text-anchor="start" font-weight="normal" letter-spacing="0.35">M15</text>
<text x="1018.5" y="10.2" font-size="9.4" fill="#303030" text-anchor="start" font-weight="normal" letter-spacing="0.35">M30</text>
<text x="1049.6" y="10.2" font-size="9.4" fill="#303030" text-anchor="start" font-weight="normal" letter-spacing="0.35">H1</text>
<rect x="1072" y="0" width="1" height="16" fill="#a0a0a0" />
<rect x="1073" y="0" width="1" height="16" fill="#ffffff" />
<rect x="1074" y="0" width="23" height="16" fill="#f8f8f8" />
<text x="1076.8" y="10.2" font-size="9.4" fill="#303030" text-anchor="start" font-weight="normal" letter-spacing="0.35">H4</text>
<text x="1105.5" y="10.2" font-size="9.4" fill="#303030" text-anchor="start" font-weight="normal" letter-spacing="0.35">D1</text>
<text x="1133.3" y="10.2" font-size="9.4" fill="#303030" text-anchor="start" font-weight="normal" letter-spacing="0.35">W1</text>
<text x="1159.8" y="10.2" font-size="9.4" fill="#303030" text-anchor="start" font-weight="normal" letter-spacing="0.35">MN</text>
<rect x="1183" y="0" width="1" height="16" fill="#a0a0a0" />
<rect x="1184" y="0" width="1" height="16" fill="#ffffff" />
<circle cx="1653.6" cy="3.4" r="3.9" fill="#f4f6ff" stroke="#2a64d0" stroke-width="1.5"/>
<line x1="1650.6" y1="6.5" x2="1646.2" y2="11" stroke="#2a64d0" stroke-width="2.4"/>
<ellipse cx="1676" cy="8" rx="6" ry="4.5" fill="#e4e6ee" stroke="#a8a8a8" stroke-width="1"/>
<circle cx="1684.5" cy="4" r="8.2" fill="#dc3018"/>
<text x="1684.5" y="8" font-size="11" fill="#fff" text-anchor="middle" font-weight="bold" font-family="Liberation Serif, serif">1</text>
</svg>
</body></html>
